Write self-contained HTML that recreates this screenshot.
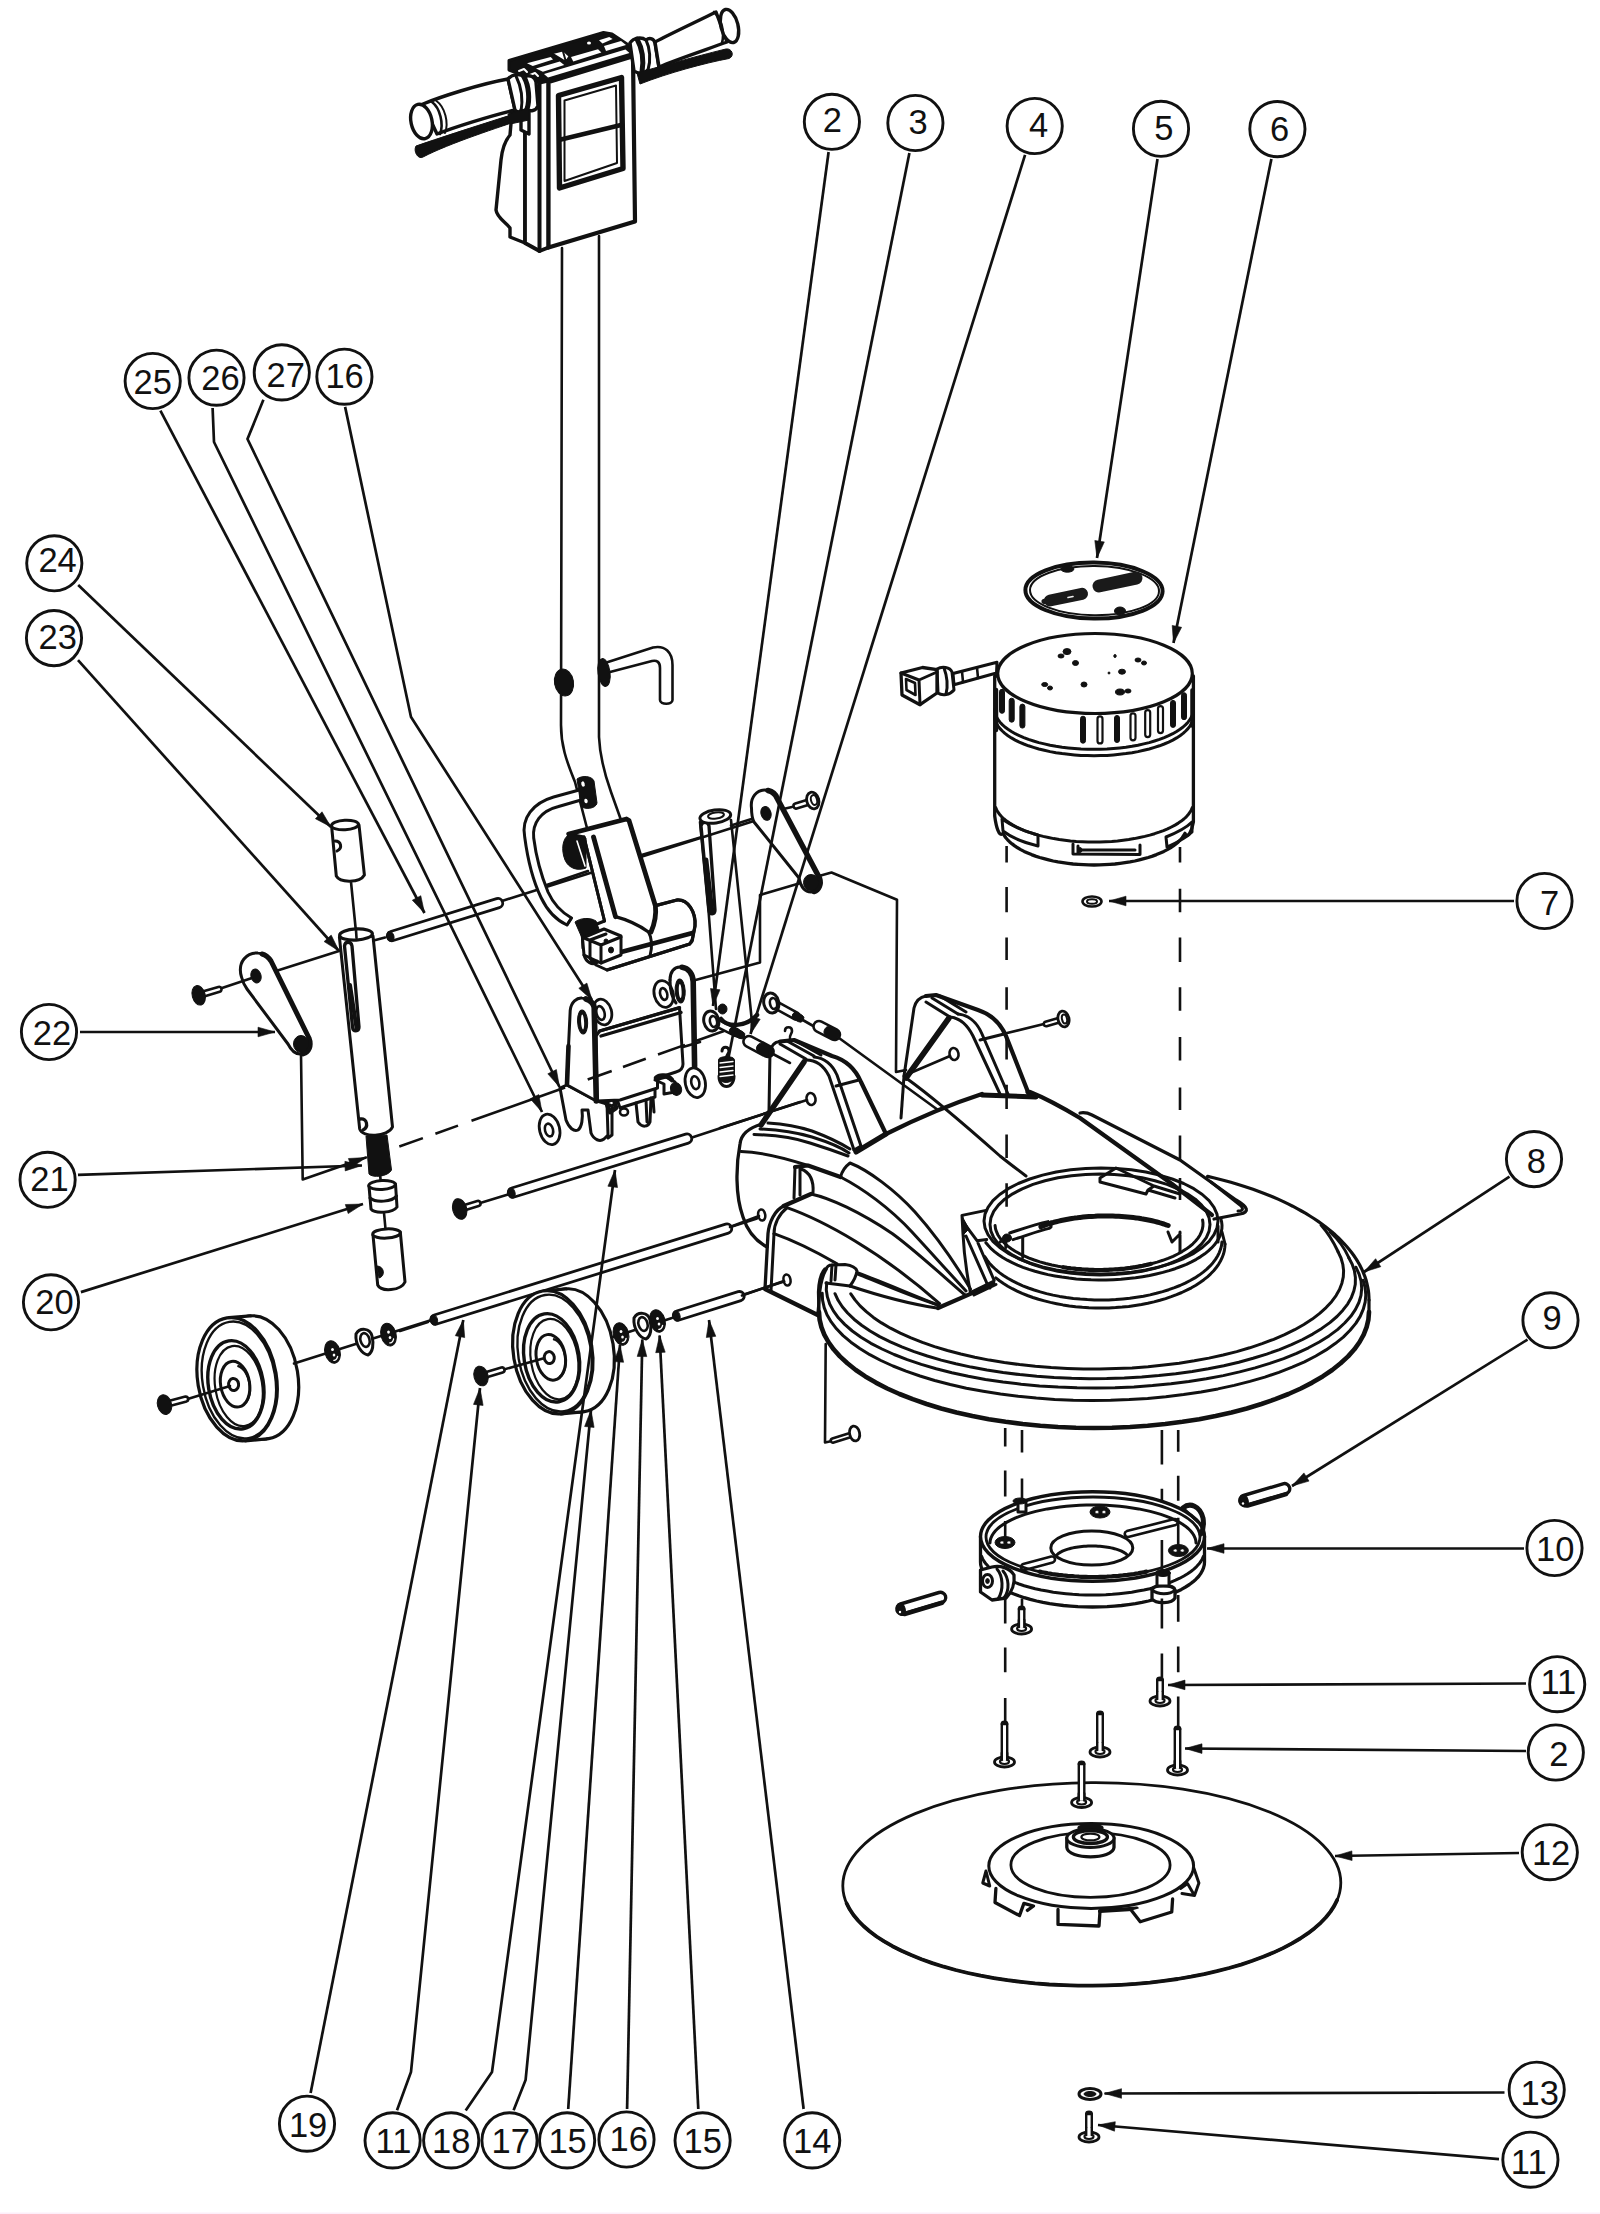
<!DOCTYPE html>
<html><head><meta charset="utf-8"><title>Exploded view</title>
<style>
html,body{margin:0;padding:0;background:#fff;}
body{width:1600px;height:2214px;overflow:hidden;font-family:"Liberation Sans",sans-serif;}
svg{display:block}
.s{fill:none;stroke:#111;stroke-width:2.6;stroke-linecap:round;stroke-linejoin:round}
.t{fill:none;stroke:#111;stroke-width:2;stroke-linecap:round;stroke-linejoin:round}
.k{fill:none;stroke:#111;stroke-width:3.4;stroke-linecap:round;stroke-linejoin:round}
.w{fill:#fff;stroke:#111;stroke-width:2.6;stroke-linecap:round;stroke-linejoin:round}
.b{fill:#111;stroke:#111;stroke-width:1;stroke-linejoin:round}
.l{fill:none;stroke:#111;stroke-width:2.7;stroke-linecap:butt}
.d{fill:none;stroke:#111;stroke-width:2;stroke-dasharray:26 12}
.c{fill:#fff;stroke:#111;stroke-width:2.9}
text{font-family:"Liberation Sans",sans-serif;font-size:34.5px;fill:#111;text-anchor:middle}
</style></head><body>
<svg width="1600" height="2214" viewBox="0 0 1600 2214">
<rect x="0" y="0" width="1600" height="2214" fill="#fff"/><rect x="0" y="2212.5" width="1600" height="1.5" fill="#fdeefa"/>
<!-- 10_handle_top.py -->
<path class="w" d="M423 104 C440 97 480 84 508 79 L515 110 C490 116 455 127 437 134 Z" style="stroke-width:3.4"/>
<ellipse class="w" style="stroke-width:3.4" cx="421.5" cy="121.5" rx="10.5" ry="17.5" transform="rotate(-12 421.5 121.5)"/>
<path class="s" d="M432 102 C440 108 444 124 440 134" />
<path class="t" d="M436.5 101 C445 107 449 123 445 133" />
<path class="w" d="M512 112 L510 135 C504 142 502 150 501 160 L496 210 C497 218 506 222 510 228 L510 237 L525 243 L525 115 Z" style="stroke-width:3.4"/>
<path class="w" d="M525 76 L525 243 L539.5 251 L548.5 247.5 L548.5 82 L539.5 76 Z" style="stroke-width:3.8"/>
<path class="s" d="M539.5 83 L539.5 251" style="stroke-width:4"/>
<path class="b" d="M509 60.5 L603.5 32.5 L612 34 L633 48 L633 55 L548.5 81 L539.5 83 L525 76 L509 70 Z" style="stroke-width:3"/>
<path class="w" d="M527 63.3 L550.7 57 L553 59.4 L532.75 66 Z" style="stroke:none"/>
<path class="w" d="M536 68.4 L559.75 61.6 L564.25 65 L542.9 71.75 Z" style="stroke:none"/>
<path class="w" d="M571 57 L598 49.25 L601.4 52.6 L573.25 61.6 Z" style="stroke:none"/>
<path class="w" d="M599 40.25 L609.25 36.9 L612.6 39 L602.5 43.6 Z" style="stroke:none"/>
<path class="w" d="M604 46 L621 41 L626 45 L606 51 Z" style="stroke:none"/>
<path class="w" d="M544 74 L625.5 49.5 L629.5 53 L548 77.5 Z" style="stroke:none"/>
<path class="w" d="M553 54 L563 51.5 L569 57 L566 62 Z" style="stroke:none"/>
<path class="s" d="M553 54 L566 62 M563 51.5 L566 62 L569 57" style="stroke-width:2"/>
<ellipse class="w" style="stroke:none" cx="589" cy="43" rx="2" ry="1.5"/>
<path class="s" d="M519 71 L524 69 L527 72 M530 75 L535 73 L538 76" style="stroke:#fff;stroke-width:2"/>
<path class="w" d="M508 79 C512 74 520 73 524 77 C530 74 535 77 536 82 L538 106 C536 111 530 112 527 109 C523 113 517 113 515 110 Z" style="stroke-width:3.4"/>
<path class="s" d="M516 76 C521 86 523 100 521 112" style="stroke-width:3"/>
<path class="s" d="M524 77 C529 86 530 100 527 109" style="stroke-width:5"/>
<path class="w" d="M521 110 L521 130 L529 134 L529 112" style="stroke-width:3.4"/>
<path class="b" d="M416 146 C445 136 495 120 527 110 L529 117 C497 128 450 143 423 157 C418 160 413 151 416 146 Z" />
<path class="b" d="M508 114 L528 108 L529 120 L510 124 Z" />
<path class="w" d="M548.5 82 L633 56.3 L635 221.6 L548.5 247.5 Z" style="stroke-width:4.2"/>
<path class="s" d="M558.5 95.5 L621.5 77.5 L623 168.5 L559.5 188 Z" style="stroke-width:5.4;stroke-linejoin:round"/>
<path class="t" d="M564.5 100.5 L616 85.5 L617 163 L564.5 181 Z" />
<path class="s" d="M561 139.5 L621 125" style="stroke-width:4.4"/>
<path class="w" d="M630 43 C634 37 642 37 646 40 C650 37 654 39 655 43 L659 68 C655 73 650 72 648 70 C644 74 638 74 634 71 Z" style="stroke-width:3.4"/>
<path class="s" d="M637 39 C642 48 644 60 642 72" style="stroke-width:5"/>
<path class="s" d="M646 40 C650 48 651 60 648 70" style="stroke-width:3"/>
<path class="w" d="M655 42 C670 34 700 20 716 12 L727 42 C705 50 675 60 659 67 Z" style="stroke-width:3.4"/>
<ellipse class="w" style="stroke-width:3.4" cx="729.5" cy="26" rx="8.5" ry="17" transform="rotate(-14 729.5 26)"/>
<path class="s" d="M714 12 C721 18 725 32 722 43" />
<path class="b" d="M637 73 C665 65 705 54 726 49 C732 48 735 56 729 58.5 C705 63 668 73 640 84 Z" />
<!-- 11_handle_tube.py -->
<path class="s" d="M562 248 L561 725 C561 745 566 760 575 782 L588 832" />
<path class="s" d="M599 236 L599 737 C600 760 606 778 611 792 L621 820" />
<ellipse class="b" cx="564" cy="682.5" rx="9.5" ry="13.5" transform="rotate(-10 564 682.5)"/>
<ellipse class="b" cx="604" cy="672.5" rx="6" ry="14" transform="rotate(-8 604 672.5)"/>
<path class="s" d="M608 662 L653 647.5 C665 645 672.5 652 672.5 665 L672.5 700 C672.5 705 660 705 660 700 L660 668 C660 662 657 660 652 661 L610 672" />
<!-- 20_left_parts.py -->
<path class="w" d="M331.6 826 L336.3 876 C340 883 360 883 364.4 875 L359 825 Z" style="stroke-width:3"/>
<ellipse class="w" style="stroke-width:3" cx="345" cy="825" rx="13.5" ry="4.8" transform="rotate(-3 345 825)"/>
<path class="s" d="M335 841 C341 841 343 848 337 851" style="stroke-width:3"/>
<line class="s" x1="351" y1="882" x2="356.5" y2="937"/>
<path class="w" d="M339.4 937 L359.7 1129 C362 1138 388 1137 392.5 1127 L373 936 Z" style="stroke-width:3"/>
<ellipse class="w" style="stroke-width:3.2" cx="356" cy="934.5" rx="16.4" ry="5.6" transform="rotate(-3 356 934.5)"/>
<path class="s" d="M344.5 946 C345 941 351 941 352 946 L359 1027 C359 1032 353 1032 352.5 1027 Z" style="stroke-width:3.3"/>
<path class="s" d="M350 985 L356.5 1028" style="stroke-width:4"/>
<path class="s" d="M360.5 1119 C367 1118 369 1127 363 1130" style="stroke-width:3.3"/>
<line class="s" x1="356" y1="930" x2="356.5" y2="938"/>
<path class="b" d="M366 1136 L387 1135 L391.5 1170 C388 1177 372 1178 369 1174 Z" />
<line class="s" x1="380" y1="1174" x2="381" y2="1184"/>
<path class="w" d="M369 1186 L371 1209 C375 1214 393 1213 397 1207 L395.5 1184 Z" style="stroke-width:3"/>
<ellipse class="w" style="stroke-width:3" cx="382" cy="1185" rx="13.3" ry="4.5" transform="rotate(-3 382 1185)"/>
<path class="s" d="M370 1198 C376 1203 392 1202 396.5 1196" style="stroke-width:3"/>
<line class="s" x1="384" y1="1213" x2="385.5" y2="1229"/>
<path class="w" d="M373 1235 L377.7 1285 C381 1292 401 1291 405 1282 L400.3 1232 Z" style="stroke-width:3"/>
<ellipse class="w" style="stroke-width:3" cx="386.5" cy="1233.5" rx="13.8" ry="4.6" transform="rotate(-3 386.5 1233.5)"/>
<path class="b" d="M377 1266 C384 1266 386 1276 379 1278 Z" />
<path class="w" d="M241.5 977 C237 962 247 952 258 953 C264 953 268 956 271 961 L309 1038 C312 1046 308 1053 300 1054 C295 1054 291 1050 288 1044 L247 989 C244 985 242.5 981 241.5 977 Z" style="stroke-width:3"/>
<path class="s" d="M262 954 C266 955 269 958 271 961 L309 1038 C312 1046 309 1052 303 1054" style="stroke-width:5"/>
<ellipse class="b" cx="256" cy="976" rx="5" ry="7" transform="rotate(-15 256 976)"/>
<ellipse class="b" cx="301" cy="1044" rx="7.5" ry="8.5"/>
<line class="s" x1="219" y1="989" x2="252" y2="978"/>
<path class="w" d="M205.7 995.9 L219.7 991.7 A2.5 2.5 0 0 0 218.3 986.9 L204.3 991.1 A2.5 2.5 0 0 0 205.7 995.9 Z"/>
<ellipse class="b" cx="198.7" cy="995.3" rx="6.5" ry="10" transform="rotate(-15 198.7 995.3)"/>
<line class="s" x1="276" y1="971" x2="339" y2="951"/>
<path class="s" d="M301 1054 L302.7 1179.5 L366 1157.5"/><path class="b" style="stroke-width:.6" d="M366 1157.5 L351.5 1167.6 L348.4 1158.5 Z"/>
<ellipse class="w" style="stroke-width:3.2" cx="258.5" cy="1377.4" rx="39.4" ry="62.1" transform="rotate(-9.4 258.5 1377.4)"/>
<path class="w" style="stroke:none" d="M229 1317.7 L250.4 1315.9 L266.6 1438.9 L245.2 1440.8 Z"/>
<path class="s" d="M229 1317.7 L250.4 1315.9 M245.2 1440.8 L266.6 1438.9" style="stroke-width:3.2"/>
<ellipse class="w" style="stroke-width:3.2" cx="237.1" cy="1379.2" rx="39.4" ry="62.1" transform="rotate(-9.4 237.1 1379.2)"/>
<ellipse class="s" style="stroke-width:2.4" cx="238.9" cy="1380" rx="36.4" ry="58.9" transform="rotate(-9.4 238.9 1380)"/>
<ellipse class="s" style="stroke-width:3.4" cx="235.9" cy="1384.8" rx="27.5" ry="44.5" transform="rotate(-9.4 235.9 1384.8)"/>
<ellipse class="s" style="stroke-width:2.2" cx="238.7" cy="1386" rx="23.5" ry="40.5" transform="rotate(-9.4 238.7 1386)"/>
<ellipse class="s" style="stroke-width:3" cx="235.1" cy="1384.2" rx="14.5" ry="23" transform="rotate(-9.4 235.1 1384.2)"/>
<path class="s" d="M238.3 1366.2 L238.9 1366.4 L239.6 1366.7 L240.2 1367 L240.8 1367.4 L241.4 1367.8 L242 1368.3 L242.6 1368.8 L243.1 1369.4 L243.7 1370 L244.2 1370.6 L244.8 1371.4 L245.3 1372.1 L245.8 1372.9 L246.2 1373.7 L246.7 1374.6 L247.1 1375.5 L247.5 1376.4 L247.9 1377.4 L248.2 1378.3 L248.5 1379.3 L248.8 1380.3 L249 1381.4 L249.3 1382.4 L249.5 1383.5 L249.6 1384.5 L249.7 1385.6 L249.8 1386.6 L249.9 1387.7 L249.9 1388.7 L249.9 1389.7 L249.9 1390.8 L249.8 1391.8 L249.7 1392.7 L249.5 1393.7 L249.4 1394.6 L249.1 1395.5 L248.9 1396.4 L248.6 1397.3 L248.3 1398.1 L248 1398.8 L247.7 1399.6 L247.3 1400.2 L246.9 1400.9 L246.4 1401.5 L246 1402 L245.5 1402.5 L245 1403 L244.5 1403.4" style="stroke-width:2.4"/>
<ellipse class="w" style="stroke-width:3" cx="233.6" cy="1384.5" rx="5" ry="6" transform="rotate(-9.4 233.6 1384.5)"/>
<line class="s" x1="186" y1="1399.5" x2="230" y2="1386"/>
<path class="w" d="M171.6 1405.4 L186.6 1401.4 A2.5 2.5 0 0 0 185.4 1396.6 L170.4 1400.6 A2.5 2.5 0 0 0 171.6 1405.4 Z"/>
<ellipse class="b" cx="164.5" cy="1404.6" rx="7" ry="10" transform="rotate(-15 164.5 1404.6)"/>
<line class="s" x1="294" y1="1363.5" x2="430" y2="1320.5"/>
<ellipse class="b" cx="332.5" cy="1352" rx="7.6" ry="11.5" transform="rotate(-15 332.5 1352)"/>
<ellipse class="w" style="stroke:none" cx="332.5" cy="1349.5" rx="1.4" ry="1.6"/>
<ellipse class="w" style="stroke:none" cx="334" cy="1355" rx="1.3" ry="1.5"/>
<path class="s" d="M337.6 1356.3 L337.6 1356.4 L337.5 1356.6 L337.5 1356.7 L337.5 1356.9 L337.4 1357 L337.4 1357.2 L337.3 1357.3 L337.3 1357.5 L337.2 1357.6 L337.2 1357.7 L337.1 1357.9 L337.1 1358 L337 1358.1 L337 1358.2 L336.9 1358.3 L336.8 1358.5 L336.8 1358.6 L336.7 1358.7 L336.6 1358.8 L336.5 1358.9 L336.5 1359 L336.4 1359.1 L336.3 1359.2 L336.2 1359.3 L336.1 1359.4 L336.1 1359.4 L336 1359.5 L335.9 1359.6 L335.8 1359.7 L335.7 1359.7 L335.6 1359.8 L335.5 1359.9 L335.4 1359.9 L335.3 1360 L335.2 1360 L335.1 1360.1 L335 1360.1 L334.9 1360.1 L334.8 1360.2 L334.7 1360.2 L334.6 1360.2 L334.5 1360.3 L334.4 1360.3 L334.3 1360.3 L334.2 1360.3 L334.1 1360.3 L333.9 1360.3 L333.8 1360.3" style="stroke:#fff;stroke-width:1.3"/>
<ellipse class="b" cx="388.5" cy="1334.6" rx="7.6" ry="11.5" transform="rotate(-15 388.5 1334.6)"/>
<ellipse class="w" style="stroke:none" cx="388.5" cy="1332.1" rx="1.4" ry="1.6"/>
<ellipse class="w" style="stroke:none" cx="390" cy="1337.6" rx="1.3" ry="1.5"/>
<path class="s" d="M393.6 1338.9 L393.6 1339 L393.5 1339.2 L393.5 1339.3 L393.5 1339.5 L393.4 1339.6 L393.4 1339.8 L393.3 1339.9 L393.3 1340.1 L393.2 1340.2 L393.2 1340.3 L393.1 1340.5 L393.1 1340.6 L393 1340.7 L393 1340.8 L392.9 1340.9 L392.8 1341.1 L392.8 1341.2 L392.7 1341.3 L392.6 1341.4 L392.5 1341.5 L392.5 1341.6 L392.4 1341.7 L392.3 1341.8 L392.2 1341.9 L392.1 1342 L392.1 1342 L392 1342.1 L391.9 1342.2 L391.8 1342.3 L391.7 1342.3 L391.6 1342.4 L391.5 1342.5 L391.4 1342.5 L391.3 1342.6 L391.2 1342.6 L391.1 1342.7 L391 1342.7 L390.9 1342.7 L390.8 1342.8 L390.7 1342.8 L390.6 1342.8 L390.5 1342.9 L390.4 1342.9 L390.3 1342.9 L390.2 1342.9 L390.1 1342.9 L389.9 1342.9 L389.8 1342.9" style="stroke:#fff;stroke-width:1.3"/>
<path class="w" d="M356 1334 C360 1327 370 1328 372 1336 C374 1344 373 1352 368 1355 C362 1354 355 1345 356 1334 Z" style="stroke-width:3"/>
<ellipse class="s" style="stroke-width:2.6" cx="365" cy="1340" rx="4.5" ry="7" transform="rotate(-15 365 1340)"/>
<!-- 25_rods_wheel2.py -->
<line class="s" x1="692" y1="1137.5" x2="800" y2="1102"/>
<path class="w" style="stroke-width:2.8" d="M514.4 1197 L688.4 1143.2 A4.7 4.7 0 0 0 685.6 1134.2 L511.6 1188 A4.7 4.7 0 0 0 514.4 1197 Z"/>
<ellipse class="b" cx="511.5" cy="1193" rx="3.5" ry="5.2" transform="rotate(-17 511.5 1193)"/>
<line class="s" x1="472" y1="1205.5" x2="508" y2="1194.5"/>
<path class="w" d="M465.7 1209.9 L478.7 1205.9 A2.5 2.5 0 0 0 477.3 1201.1 L464.3 1205.1 A2.5 2.5 0 0 0 465.7 1209.9 Z"/>
<ellipse class="b" cx="459.7" cy="1209" rx="7" ry="10.5" transform="rotate(-15 459.7 1209)"/>
<line class="s" x1="400" y1="1331" x2="428" y2="1322"/>
<line class="s" x1="732" y1="1226.5" x2="757" y2="1218.5"/>
<path class="w" style="stroke-width:2.8" d="M436.9 1324 L728.4 1233.2 A4.7 4.7 0 0 0 725.6 1224.2 L434.1 1315 A4.7 4.7 0 0 0 436.9 1324 Z"/>
<ellipse class="b" cx="434" cy="1320" rx="3.5" ry="5.2" transform="rotate(-17 434 1320)"/>
<line class="s" x1="744" y1="1294.5" x2="784" y2="1281.5"/>
<path class="w" style="stroke-width:2.8" d="M679.4 1320 L740.9 1300.7 A4.7 4.7 0 0 0 738.1 1291.7 L676.6 1311 A4.7 4.7 0 0 0 679.4 1320 Z"/>
<ellipse class="b" cx="676.5" cy="1316" rx="3.5" ry="5.2" transform="rotate(-17 676.5 1316)"/>
<line class="s" x1="607" y1="1339" x2="672" y2="1318"/>
<ellipse class="w" style="stroke-width:3.2" cx="574.2" cy="1350.4" rx="39.4" ry="62.1" transform="rotate(-9.4 574.2 1350.4)"/>
<path class="w" style="stroke:none" d="M544.7 1290.8 L566.1 1288.9 L582.3 1411.9 L560.9 1413.8 Z"/>
<path class="s" d="M544.7 1290.8 L566.1 1288.9 M560.9 1413.8 L582.3 1411.9" style="stroke-width:3.2"/>
<ellipse class="w" style="stroke-width:3.2" cx="552.8" cy="1352.3" rx="39.4" ry="62.1" transform="rotate(-9.4 552.8 1352.3)"/>
<ellipse class="s" style="stroke-width:2.4" cx="554.6" cy="1353.1" rx="36.4" ry="58.9" transform="rotate(-9.4 554.6 1353.1)"/>
<ellipse class="s" style="stroke-width:3.4" cx="551.6" cy="1357.8" rx="27.5" ry="44.5" transform="rotate(-9.4 551.6 1357.8)"/>
<ellipse class="s" style="stroke-width:2.2" cx="554.4" cy="1359.1" rx="23.5" ry="40.5" transform="rotate(-9.4 554.4 1359.1)"/>
<ellipse class="s" style="stroke-width:3" cx="550.8" cy="1357.3" rx="14.5" ry="23" transform="rotate(-9.4 550.8 1357.3)"/>
<path class="s" d="M554 1339.3 L554.6 1339.5 L555.3 1339.7 L555.9 1340 L556.5 1340.4 L557.1 1340.8 L557.7 1341.3 L558.3 1341.8 L558.8 1342.4 L559.4 1343 L559.9 1343.7 L560.5 1344.4 L561 1345.2 L561.5 1346 L561.9 1346.8 L562.4 1347.6 L562.8 1348.5 L563.2 1349.5 L563.6 1350.4 L563.9 1351.4 L564.2 1352.4 L564.5 1353.4 L564.7 1354.4 L565 1355.5 L565.2 1356.5 L565.3 1357.6 L565.4 1358.6 L565.5 1359.7 L565.6 1360.7 L565.6 1361.8 L565.6 1362.8 L565.6 1363.8 L565.5 1364.8 L565.4 1365.8 L565.2 1366.7 L565.1 1367.7 L564.8 1368.6 L564.6 1369.5 L564.3 1370.3 L564 1371.1 L563.7 1371.9 L563.4 1372.6 L563 1373.3 L562.6 1373.9 L562.1 1374.5 L561.7 1375.1 L561.2 1375.6 L560.7 1376 L560.2 1376.4" style="stroke-width:2.4"/>
<ellipse class="w" style="stroke-width:3" cx="549.3" cy="1357.6" rx="5" ry="6" transform="rotate(-9.4 549.3 1357.6)"/>
<line class="s" x1="502" y1="1370" x2="543" y2="1358.5"/>
<path class="w" d="M487.7 1376.9 L502.7 1372.4 A2.5 2.5 0 0 0 501.3 1367.6 L486.3 1372.1 A2.5 2.5 0 0 0 487.7 1376.9 Z"/>
<ellipse class="b" cx="481" cy="1376" rx="7" ry="10" transform="rotate(-15 481 1376)"/>
<ellipse class="b" cx="621" cy="1334" rx="7.6" ry="11.5" transform="rotate(-15 621 1334)"/>
<ellipse class="w" style="stroke:none" cx="621" cy="1331.5" rx="1.4" ry="1.6"/>
<ellipse class="w" style="stroke:none" cx="622.5" cy="1337" rx="1.3" ry="1.5"/>
<path class="s" d="M626.1 1338.3 L626.1 1338.4 L626 1338.6 L626 1338.7 L626 1338.9 L625.9 1339 L625.9 1339.2 L625.8 1339.3 L625.8 1339.5 L625.7 1339.6 L625.7 1339.7 L625.6 1339.9 L625.6 1340 L625.5 1340.1 L625.5 1340.2 L625.4 1340.3 L625.3 1340.5 L625.3 1340.6 L625.2 1340.7 L625.1 1340.8 L625 1340.9 L625 1341 L624.9 1341.1 L624.8 1341.2 L624.7 1341.3 L624.6 1341.4 L624.6 1341.4 L624.5 1341.5 L624.4 1341.6 L624.3 1341.7 L624.2 1341.7 L624.1 1341.8 L624 1341.9 L623.9 1341.9 L623.8 1342 L623.7 1342 L623.6 1342.1 L623.5 1342.1 L623.4 1342.1 L623.3 1342.2 L623.2 1342.2 L623.1 1342.2 L623 1342.3 L622.9 1342.3 L622.8 1342.3 L622.7 1342.3 L622.6 1342.3 L622.4 1342.3 L622.3 1342.3" style="stroke:#fff;stroke-width:1.3"/>
<ellipse class="b" cx="657.5" cy="1321" rx="7.6" ry="11.5" transform="rotate(-15 657.5 1321)"/>
<ellipse class="w" style="stroke:none" cx="657.5" cy="1318.5" rx="1.4" ry="1.6"/>
<ellipse class="w" style="stroke:none" cx="659" cy="1324" rx="1.3" ry="1.5"/>
<path class="s" d="M662.6 1325.3 L662.6 1325.4 L662.5 1325.6 L662.5 1325.7 L662.5 1325.9 L662.4 1326 L662.4 1326.2 L662.3 1326.3 L662.3 1326.5 L662.2 1326.6 L662.2 1326.7 L662.1 1326.9 L662.1 1327 L662 1327.1 L662 1327.2 L661.9 1327.3 L661.8 1327.5 L661.8 1327.6 L661.7 1327.7 L661.6 1327.8 L661.5 1327.9 L661.5 1328 L661.4 1328.1 L661.3 1328.2 L661.2 1328.3 L661.1 1328.4 L661.1 1328.4 L661 1328.5 L660.9 1328.6 L660.8 1328.7 L660.7 1328.7 L660.6 1328.8 L660.5 1328.9 L660.4 1328.9 L660.3 1329 L660.2 1329 L660.1 1329.1 L660 1329.1 L659.9 1329.1 L659.8 1329.2 L659.7 1329.2 L659.6 1329.2 L659.5 1329.3 L659.4 1329.3 L659.3 1329.3 L659.2 1329.3 L659.1 1329.3 L658.9 1329.3 L658.8 1329.3" style="stroke:#fff;stroke-width:1.3"/>
<path class="w" d="M634 1318 C638 1311 648 1312 650 1320 C652 1328 651 1336 646 1339 C640 1338 633 1329 634 1318 Z" style="stroke-width:3"/>
<ellipse class="s" style="stroke-width:2.6" cx="643" cy="1324" rx="4.5" ry="7" transform="rotate(-15 643 1324)"/>
<!-- 30_pivot.py -->
<line class="s" x1="373.7" y1="940.6" x2="385" y2="937.5"/>
<line class="s" x1="502" y1="901" x2="757" y2="820"/>
<path class="w" style="stroke-width:2.8" d="M393.4 940.5 L499.4 907.7 A4.7 4.7 0 0 0 496.6 898.7 L390.6 931.5 A4.7 4.7 0 0 0 393.4 940.5 Z"/>
<ellipse class="b" cx="390.5" cy="936.5" rx="3.4" ry="5.2" transform="rotate(-17 390.5 936.5)"/>
<path class="w" d="M581 789.5 L553.6 797 C533 803 521 818 524.7 837 C528 862 535 885 541 897.5 C547 910 556 920 567 925 L571.5 918 C561 912 553 903 548 892 C541 875 536 856 533.7 838 C532 823 541 811 557.7 806.7 L581 800 Z" style="stroke-width:3"/>
<path class="s" d="M567 925 L571.5 918" />
<path class="b" d="M577 779 C582 775 592 776 594 781 L597 803 C596 809 584 810 581 806 Z" />
<ellipse class="w" cx="583" cy="784" rx="3" ry="4" transform="rotate(-15 583 784)"/>
<ellipse class="w" cx="586" cy="801" rx="3" ry="3.5" transform="rotate(-15 586 801)"/>
<path class="w" d="M568.7 834 L626.5 819 L629 820.5 L655.4 905.7 L677 900 C688 899 696 912 695 926 L692.5 938.7 L689.7 944 L607 970 L596 965 L583 948 L582 930 L604.5 921 L584 837 Z" style="stroke-width:3"/>
<path class="s" d="M568.7 834 L626.5 819 L629 820.5 L655.4 905.7 C656.5 915 654 925 651 932" style="stroke-width:4.8"/>
<path class="s" d="M593.5 837 L615.5 916.7 C628 920 640 926 648.5 932 L651 932" style="stroke-width:3.3"/>
<path class="s" d="M593.5 837 L615.5 916.7" style="stroke-width:4.8"/>
<path class="s" d="M584 837 L604.5 921" style="stroke-width:3"/>
<path class="s" d="M648.5 932 C652 938 652 948 650 956" style="stroke-width:3"/>
<path class="s" d="M655.4 905.7 L677 900 C688 899 696 912 695 926 L692.5 938.7" style="stroke-width:3.3"/>
<path class="s" d="M610 955 L692.5 933" style="stroke-width:4.8"/>
<path class="s" d="M607 970 L689.7 944 C692 942 693 940 692.5 938.7" style="stroke-width:3"/>
<path class="b" d="M570 834 C562 838 561 850 565 860 C569 869 578 871 586 868 L586 838 Z" />
<path class="s" d="M577 841 L585 866" style="stroke:#fff;stroke-width:1.6"/>
<path class="b" d="M575 922 C580 918 590 917 596 921 L600 932 L582 938 Z" />
<path class="w" d="M582.5 938 L604 929 L621 936 L621 955 L601 963 L584 955 Z" style="stroke-width:3"/>
<path class="s" d="M590 940 L590 958 M590 940 L606 934 M601 945 L601 963 M601 945 L621 937 M584 938 L601 945" style="stroke-width:3"/>
<ellipse class="b" cx="611" cy="950" rx="2.5" ry="3"/>
<ellipse class="b" cx="606" cy="941" rx="2" ry="2"/>
<path class="s" d="M584 955 C586 962 592 966 598 962 M590 958 C592 962 595 963 597 961" style="stroke-width:3"/>
<line class="s" x1="641.6" y1="855" x2="699.4" y2="837.7"/>
<line class="s" x1="546.7" y1="885" x2="588" y2="871"/>
<path class="s" d="M700 822 L708.75 913.75 L716 1009" />
<path class="s" d="M731 820 L752 1022" />
<path class="s" d="M701 826 C702 821 708 821 709 826 L715 910 C715 915 709.5 915 709 910 Z" style="stroke-width:3.3"/>
<path class="s" d="M706 860 L712 912" style="stroke-width:4.8"/>
<ellipse class="w" style="stroke-width:3" cx="715.3" cy="816.5" rx="15.5" ry="6.5" transform="rotate(-8 715.3 816.5)"/>
<ellipse class="t" cx="716" cy="815.5" rx="8" ry="3" transform="rotate(-8 716 815.5)"/>
<!-- 31_bracket.py -->
<ellipse class="w" style="stroke-width:2.8" cx="602.5" cy="1012" rx="9" ry="13" transform="rotate(-15 602.5 1012)"/>
<ellipse class="s" cx="600.5" cy="1013" rx="4" ry="7" transform="rotate(-15 600.5 1013)"/>
<ellipse class="w" style="stroke-width:2.8" cx="663.7" cy="994" rx="9.5" ry="13.5" transform="rotate(-15 663.7 994)"/>
<ellipse class="s" style="stroke-width:2.6" cx="663.7" cy="994" rx="3.5" ry="6" transform="rotate(-15 663.7 994)"/>
<path class="w" d="M560 1088 L566 1120 C569 1128 574 1132 578 1130 C582 1127 583 1118 582 1110 L588 1110 L591 1133 C594 1140 600 1142 604 1139 L608 1135 L607 1104 L597 1101 L566.7 1085 Z" style="stroke-width:3"/>
<path class="s" d="M607 1104 L612 1106 L612 1135 L608 1138 M612 1106 L618 1102 L620 1108 L655 1097 L655 1088" style="stroke-width:3"/>
<path class="s" d="M636 1103 L638 1122 C642 1128 648 1127 650 1122 L651 1098 M646 1100 L647 1122 M653 1098 L654 1112" style="stroke-width:3"/>
<path class="s" d="M598 1095 L612 1090 L614 1098 L606 1102 M606 1102 L610 1112 L616 1108 L614 1098" style="stroke-width:4.6"/>
<ellipse class="s" cx="624" cy="1112" rx="4" ry="3.5"/>
<path class="w" d="M599.7 1031 L679.5 1007.7 L683 1064 C683 1068 680 1071 676 1072 L657.5 1078 L657.5 1088 L620 1100 L597 1101 L596 1036 Z" style="stroke-width:3"/>
<path class="s" d="M599.7 1031 L679.5 1007.7 M601 1036 L681 1012.5" style="stroke-width:3.3"/>
<path class="w" d="M655 1080 L666 1077 L675 1082 L675 1092 L664 1094 L664 1084 Z" style="stroke-width:3"/>
<ellipse class="b" cx="676" cy="1089" rx="5.5" ry="6.5" transform="rotate(-20 676 1089)"/>
<path class="s" d="M656 1078 C660 1074 668 1075 672 1080" style="stroke-width:4.6"/>
<path class="w" d="M566.7 1084.7 L570.2 1010.5 C571 1002 577 997.5 582 998 C589 998.5 593.5 1002 594.2 1007.7 L596.3 1101 Z" style="stroke-width:3"/>
<path class="s" d="M586 999 C590.5 1000.5 593.5 1003 594.2 1007.7 L596.3 1101" style="stroke-width:5.6"/>
<ellipse class="b" cx="582.6" cy="1022" rx="5" ry="12" transform="rotate(-3 582.6 1022)"/>
<ellipse class="w" style="stroke:none" cx="582.6" cy="1022" rx="1.5" ry="7.5" transform="rotate(-3 582.6 1022)"/>
<path class="s" d="M568.5 1046 L567 1084" style="stroke-width:4.6"/>
<path class="s" d="M670 980 C670 972 674 967 680 967 C687 967 693 973 693.2 981.6 L694.6 1066" style="stroke-width:3"/>
<path class="s" d="M682 967.2 C688.5 968 693 974 693.2 981.6 L694.6 1066" style="stroke-width:5.6"/>
<path class="s" d="M670 980 C670 990 672 998 676 1003" style="stroke-width:3"/>
<ellipse class="b" cx="680.2" cy="991" rx="5" ry="12" transform="rotate(-3 680.2 991)"/>
<ellipse class="w" style="stroke:none" cx="680.2" cy="991" rx="1.4" ry="7" transform="rotate(-3 680.2 991)"/>
<ellipse class="w" style="stroke-width:2.8" cx="695.3" cy="1082.7" rx="10" ry="15" transform="rotate(-12 695.3 1082.7)"/>
<ellipse class="s" style="stroke-width:2.6" cx="695.3" cy="1082.7" rx="4" ry="6.5" transform="rotate(-12 695.3 1082.7)"/>
<ellipse class="w" style="stroke-width:2.8" cx="549.6" cy="1129.4" rx="10" ry="15.5" transform="rotate(-14 549.6 1129.4)"/>
<ellipse class="s" style="stroke-width:2.6" cx="549" cy="1130" rx="4" ry="6.5" transform="rotate(-14 549 1130)"/>
<path class="s" d="M800.6 883 L760 895 L760 962.5 L695.6 980" />
<line class="s" x1="683" y1="1047" x2="700" y2="1042"/>
<path class="b" d="M718.5 1060 C718 1056 734 1055 734.5 1060 L734.5 1078 C730 1084 722 1084 718.5 1078 Z" />
<path class="s" d="M719 1076 C719 1090 734 1090 734 1076" style="stroke-width:3"/>
<path class="s" d="M720 1063 L733 1061.5 M720 1067.5 L733 1066 M720 1072 L733 1070.5 M720 1076.5 L733 1075" style="stroke:#fff;stroke-width:1.3"/>
<path class="s" d="M722 1051 C722 1046 729 1046 729 1051 C729 1054 726 1055 726.5 1058" style="stroke-width:3"/>
<!-- 32_links.py -->
<line class="s" x1="731" y1="825.6" x2="761" y2="816"/>
<line class="s" x1="770" y1="812" x2="792" y2="807"/>
<path class="w" d="M751.5 808 C750 797 757 790 765 790 C771 790 775 793 777 798 L819.5 878 C822 885 818 891 811 892 C805 892 801 888 799 878 L754 822 C752 818 751.5 812 751.5 808 Z" style="stroke-width:3"/>
<path class="s" d="M768 790.5 C772 791.5 775.5 794 777 798 L819.5 878 C821.5 884 819 890 814 891.5" style="stroke-width:5.5"/>
<ellipse class="b" cx="766" cy="813.4" rx="5" ry="7" transform="rotate(-15 766 813.4)"/>
<ellipse class="b" cx="811" cy="882.5" rx="7.5" ry="8"/>
<path class="w" d="M796.7 808.4 L809.7 804.4 A2.5 2.5 0 0 0 808.3 799.6 L795.3 803.6 A2.5 2.5 0 0 0 796.7 808.4 Z"/>
<ellipse class="w" style="stroke-width:2.8" cx="812.8" cy="800.5" rx="6" ry="8.5" transform="rotate(-15 812.8 800.5)"/>
<ellipse class="t" cx="814" cy="800" rx="3" ry="5" transform="rotate(-15 814 800)"/>
<path class="s" d="M819 876 L831.5 872.5 L897 899.7 L896 1072 L906 1070" />
<ellipse class="b" cx="722.5" cy="1009" rx="4.5" ry="5"/>
<path class="w" d="M713.4 1025.1 L734.4 1035.6 A3.5 3.5 0 0 0 737.6 1029.4 L716.6 1018.9 A3.5 3.5 0 0 0 713.4 1025.1 Z"/>
<ellipse class="w" style="stroke-width:3" cx="711.3" cy="1021" rx="7.5" ry="10" transform="rotate(-12 711.3 1021)"/>
<ellipse class="w" style="stroke-width:2.6" cx="713.5" cy="1021.5" rx="3.5" ry="5.5" transform="rotate(-12 713.5 1021.5)"/>
<path class="b" d="M731.3 1034.4 L739.3 1038.4 A3.8 3.8 0 0 0 742.7 1031.6 L734.7 1027.6 A3.8 3.8 0 0 0 731.3 1034.4 Z"/>
<line class="s" x1="741" y1="1035" x2="746" y2="1038"/>
<path class="w" d="M746.4 1046.4 L765.4 1056.4 A5.5 5.5 0 0 0 770.6 1046.6 L751.6 1036.6 A5.5 5.5 0 0 0 746.4 1046.4 Z"/>
<path class="b" d="M759.5 1053.4 L765.5 1056.4 A5.5 5.5 0 0 0 770.5 1046.6 L764.5 1043.6 A5.5 5.5 0 0 0 759.5 1053.4 Z"/>
<line class="s" x1="773" y1="1054" x2="790" y2="1063"/>
<path class="w" d="M773.3 1007.6 L794.3 1019.1 A3.5 3.5 0 0 0 797.7 1012.9 L776.7 1001.4 A3.5 3.5 0 0 0 773.3 1007.6 Z"/>
<ellipse class="w" style="stroke-width:3" cx="771.3" cy="1003" rx="7.5" ry="10" transform="rotate(-12 771.3 1003)"/>
<ellipse class="w" style="stroke-width:2.6" cx="773.5" cy="1003.5" rx="3.5" ry="5.5" transform="rotate(-12 773.5 1003.5)"/>
<path class="b" d="M794.1 1019.3 L798.1 1021.6 A3.8 3.8 0 0 0 801.9 1015 L797.9 1012.7 A3.8 3.8 0 0 0 794.1 1019.3 Z"/>
<line class="s" x1="801" y1="1019" x2="815" y2="1027"/>
<path class="w" d="M816.5 1031.4 L832 1039.4 A5.5 5.5 0 0 0 837 1029.6 L821.5 1021.6 A5.5 5.5 0 0 0 816.5 1031.4 Z"/>
<path class="b" d="M826.4 1036.3 L831.9 1039.3 A5.5 5.5 0 0 0 837.1 1029.7 L831.6 1026.7 A5.5 5.5 0 0 0 826.4 1036.3 Z"/>
<line class="s" x1="839" y1="1038" x2="938" y2="1110"/>
<path class="s" d="M785 1031 C785 1026 792 1026 792 1031 C792 1034 789 1035 790 1039" />
<path class="s" d="M721 1019 C727 1027 745 1028 757 1015" style="stroke-width:4.5"/>
<!-- 40_deck_skirt.py -->
<path class="s" d="M1207.6 1176.4 L1213.5 1177.8 L1219.4 1179.2 L1225.2 1180.7 L1230.9 1182.3 L1236.6 1184 L1242.2 1185.7 L1247.6 1187.5 L1253 1189.3 L1258.3 1191.2 L1263.6 1193.2 L1268.7 1195.2 L1273.7 1197.3 L1278.6 1199.4 L1283.4 1201.6 L1288.1 1203.9 L1292.7 1206.2 L1297.2 1208.6 L1301.5 1211 L1305.8 1213.4 L1309.9 1216 L1313.9 1218.5 L1317.8 1221.1 L1321.5 1223.8 L1325.2 1226.5 L1328.6 1229.2 L1332 1232 L1335.2 1234.8 L1338.3 1237.7 L1341.2 1240.6 L1344 1243.5 L1346.7 1246.5 L1349.2 1249.5 L1351.6 1252.5 L1353.8 1255.5 L1355.9 1258.6 L1357.8 1261.7 L1359.6 1264.8 L1361.2 1267.9 L1362.7 1271.1 L1364 1274.3 L1365.2 1277.4 L1366.2 1280.6 L1367 1283.9 L1367.7 1287.1 L1368.3 1290.3 L1368.7 1293.5 L1368.9 1296.8 L1369 1300" style="stroke-width:3.2"/>
<path class="s" d="M1369 1300 L1369 1312" style="stroke-width:3.2"/>
<path class="s" d="M1369 1312 L1368.4 1319.6 L1366.6 1327.1 L1363.7 1334.6 L1359.6 1342 L1354.4 1349.3 L1348.1 1356.4 L1340.6 1363.3 L1332.2 1370 L1322.7 1376.4 L1312.2 1382.6 L1300.8 1388.5 L1288.5 1394 L1275.3 1399.2 L1261.4 1404 L1246.8 1408.5 L1231.5 1412.5 L1215.6 1416 L1199.2 1419.2 L1182.4 1421.8 L1165.2 1424 L1147.6 1425.8 L1129.9 1427 L1112 1427.8 L1094 1428 L1076 1427.8 L1058.1 1427 L1040.4 1425.8 L1022.8 1424 L1005.6 1421.8 L988.8 1419.2 L972.4 1416 L956.5 1412.5 L941.2 1408.5 L926.6 1404 L912.7 1399.2 L899.5 1394 L887.2 1388.5 L875.8 1382.6 L865.3 1376.4 L855.8 1370 L847.4 1363.3 L839.9 1356.4 L833.6 1349.3 L828.4 1342 L824.3 1334.6 L821.4 1327.1 L819.6 1319.6 L819 1312" style="stroke-width:4.6"/>
<path class="s" d="M819 1312 L818.5 1292 C819 1280 821 1273 825 1269" style="stroke-width:3.3"/>
<path class="s" d="M1338.1 1251.8 L1341 1258 L1342.8 1264.3 L1343.6 1270.6 L1343.3 1276.9 L1341.9 1283.2 L1339.5 1289.5 L1336.1 1295.6 L1331.6 1301.7 L1326.1 1307.6 L1319.7 1313.4 L1312.3 1319.1 L1303.9 1324.5 L1294.7 1329.7 L1284.6 1334.6 L1273.7 1339.3 L1262.1 1343.7 L1249.7 1347.8 L1236.7 1351.6 L1223.1 1355 L1208.9 1358.1 L1194.3 1360.8 L1179.2 1363.2 L1163.8 1365.1 L1148 1366.7 L1132.1 1367.9 L1115.9 1368.6 L1099.7 1369 L1083.5 1368.9 L1067.3 1368.4 L1051.2 1367.6 L1035.3 1366.3 L1019.6 1364.6 L1004.3 1362.5 L989.3 1360.1 L974.8 1357.2 L960.8 1354 L947.4 1350.5 L934.5 1346.6 L922.4 1342.4 L911 1337.9 L900.3 1333.2 L890.5 1328.2 L881.5 1322.9 L873.4 1317.4 L866.3 1311.7 L860.1 1305.9 L855 1299.9 L850.8 1293.8" style="stroke-width:3"/>
<path class="s" d="M1338 1251.5 C1334 1243 1329 1234 1321 1225" style="stroke-width:3"/>
<path class="s" d="M1348.8 1257.8 L1352.2 1264.3 L1354.4 1270.9 L1355.4 1277.5 L1355.3 1284.2 L1353.9 1290.8 L1351.4 1297.4 L1347.8 1303.8 L1342.9 1310.2 L1337 1316.5 L1329.9 1322.6 L1321.8 1328.4 L1312.7 1334.1 L1302.6 1339.5 L1291.5 1344.7 L1279.5 1349.6 L1266.7 1354.1 L1253.1 1358.3 L1238.8 1362.2 L1223.8 1365.7 L1208.3 1368.8 L1192.2 1371.5 L1175.7 1373.8 L1158.8 1375.6 L1141.7 1377 L1124.3 1378 L1106.7 1378.6 L1089.2 1378.7 L1071.6 1378.3 L1054.1 1377.5 L1036.8 1376.3 L1019.8 1374.6 L1003.1 1372.5 L986.9 1370 L971.1 1367.1 L955.8 1363.8 L941.2 1360.1 L927.3 1356 L914.1 1351.6 L901.8 1346.9 L890.3 1341.9 L879.7 1336.6 L870.1 1331 L861.6 1325.2 L854 1319.2 L847.6 1313 L842.3 1306.7 L838.1 1300.3 L835 1293.7" style="stroke-width:3"/>
<path class="s" d="M1349 1258 C1345 1249 1339 1240 1330 1232" style="stroke-width:3"/>
<path class="s" d="M1355.9 1267.2 L1359.1 1274.2 L1361.1 1281.2 L1361.7 1288.3 L1361 1295.4 L1358.9 1302.5 L1355.5 1309.4 L1350.8 1316.3 L1344.7 1323 L1337.5 1329.6 L1329 1335.9 L1319.3 1342 L1308.5 1347.8 L1296.6 1353.4 L1283.7 1358.6 L1269.8 1363.4 L1255.1 1367.9 L1239.6 1371.9 L1223.3 1375.6 L1206.3 1378.8 L1188.8 1381.5 L1170.9 1383.8 L1152.5 1385.6 L1133.9 1386.9 L1115 1387.7 L1096 1388 L1077.1 1387.8 L1058.2 1387.1 L1039.5 1385.9 L1021.1 1384.2 L1003 1382 L985.4 1379.4 L968.3 1376.3 L951.9 1372.7 L936.2 1368.8 L921.3 1364.4 L907.2 1359.6 L894.1 1354.5 L882 1349 L870.9 1343.3 L861 1337.2 L852.3 1331 L844.7 1324.4 L838.4 1317.8 L833.4 1310.9 L829.7 1304 L827.4 1296.9 L826.3 1289.9 L826.7 1282.8" style="stroke-width:3"/>
<path class="s" d="M1363.2 1280.3 L1365.1 1287.5 L1365.8 1294.8 L1365.2 1302 L1363.3 1309.2 L1360.2 1316.4 L1355.8 1323.4 L1350.1 1330.3 L1343.3 1337.1 L1335.2 1343.6 L1326.1 1349.9 L1315.8 1356 L1304.5 1361.8 L1292.2 1367.2 L1278.9 1372.3 L1264.8 1377.1 L1249.9 1381.4 L1234.2 1385.4 L1217.9 1388.9 L1201 1392 L1183.6 1394.6 L1165.8 1396.8 L1147.6 1398.4 L1129.2 1399.6 L1110.6 1400.3 L1091.9 1400.5 L1073.3 1400.2 L1054.7 1399.4 L1036.3 1398.1 L1018.2 1396.3 L1000.5 1394.1 L983.2 1391.3 L966.4 1388.2 L950.2 1384.5 L934.7 1380.5 L920 1376 L906 1371.2 L893 1366 L880.9 1360.5 L869.8 1354.7 L859.8 1348.5 L850.9 1342.2 L843.1 1335.6 L836.5 1328.8 L831.2 1321.9 L827 1314.8 L824.2 1307.6 L822.6 1300.4 L822.2 1293.2" style="stroke-width:3"/>
<!-- 42_deck_body.py -->
<path class="s" d="M762 1124 C748 1128 741 1134 740 1144 C736 1165 735 1195 743 1217 C747 1230 756 1241 767 1247" style="stroke-width:3.3"/>
<path class="s" d="M768 1123 C785 1124 800 1127 812 1131 C828 1137 842 1144 850 1149" style="stroke-width:3"/>
<path class="s" d="M760 1129 C780 1130 798 1133 812 1137 C828 1142 842 1148 849 1153" style="stroke-width:3"/>
<path class="s" d="M754 1134.5 C775 1135 795 1138 810 1143 C826 1148 840 1153 848 1156" style="stroke-width:3"/>
<path class="s" d="M741 1151.5 C760 1152 785 1158 808 1165.5" style="stroke-width:3"/>
<path class="s" d="M795 1167 L808 1165.5 L840.5 1177" style="stroke-width:4.2"/>
<path class="s" d="M840.5 1177 C862 1188 890 1208 912 1232 C935 1257 952 1276 966 1291" style="stroke-width:3"/>
<path class="s" d="M840.5 1177 C842 1171 846 1166 850 1163 C868 1170 895 1190 915 1212 C940 1240 958 1268 970.5 1289" style="stroke-width:3"/>
<path class="s" d="M795 1167 L794 1198 M800 1169 L800 1195 M801 1169 C809 1172 814 1180 813 1193" style="stroke-width:3"/>
<path class="s" d="M783.6 1206 L811 1194" style="stroke-width:4.2"/>
<path class="s" d="M811 1194 C830 1198 860 1212 892.5 1233.7 C915 1250 945 1278 965.6 1295.5" style="stroke-width:3"/>
<path class="s" d="M787 1207.7 C805 1214 830 1226 855 1241 C885 1259 915 1282 939.6 1303.6" style="stroke-width:3"/>
<path class="s" d="M774 1233.7 C795 1241 820 1254 837 1263.8 M858 1274 C880 1283 910 1296 938 1305" style="stroke-width:3"/>
<path class="s" d="M783.6 1206 C775 1210 769 1222 768 1233.7 L765 1289" style="stroke-width:3.3"/>
<path class="s" d="M787 1207.7 C779 1214 774 1224 774 1233.7 L771 1291" style="stroke-width:3"/>
<path class="s" d="M765 1289 L817.7 1315" style="stroke-width:4.2"/>
<path class="s" d="M817.7 1315 L820 1290.6 C821 1282 823 1275 826 1269.5" style="stroke-width:3"/>
<path class="s" d="M826 1269.5 C827 1266 829 1265 832 1265 L845 1264.6 C851 1265.5 856 1268 857 1271 C856 1277 853 1282 850 1286" style="stroke-width:3"/>
<path class="s" d="M832 1265 L831 1281 M836 1265 L835 1280 M826 1283 L850 1286" style="stroke-width:3"/>
<path class="s" d="M850 1286 C880 1296 910 1304 937 1308" style="stroke-width:3"/>
<path class="s" d="M858 1273 C885 1283 912 1295 938 1305" style="stroke-width:3"/>
<path class="s" d="M938 1308 L968.7 1294.6 L993.5 1283.6" style="stroke-width:4.2"/>
<ellipse class="s" cx="761.7" cy="1215" rx="3.5" ry="5.5" transform="rotate(-10 761.7 1215)"/>
<ellipse class="s" cx="787" cy="1280" rx="3.5" ry="5.5" transform="rotate(-10 787 1280)"/>
<line class="s" x1="759" y1="1216" x2="730" y2="1227"/>
<line class="s" x1="784" y1="1281" x2="742" y2="1295.5"/>
<path class="s" d="M825.7 1344 L825 1442.4 L832 1441" />
<path class="w" d="M833.7 1442.6 L849.7 1437.6 A2.2 2.2 0 0 0 848.3 1433.4 L832.3 1438.4 A2.2 2.2 0 0 0 833.7 1442.6 Z"/>
<ellipse class="w" style="stroke-width:2.8" cx="854.6" cy="1433.5" rx="5" ry="7.5" transform="rotate(-12 854.6 1433.5)"/>
<!-- 43_deck_ears.py -->
<path class="s" d="M769 1110 L770 1052 C771 1045 775 1042 780 1041.5" style="stroke-width:3"/>
<path class="s" d="M780 1041.5 L794 1040 L832 1056 C846 1060 855 1068 861 1082 L886 1134" style="stroke-width:4.2"/>
<path class="s" d="M780 1044 L806 1059 M787 1041 L814 1056 M794 1040 L821 1055" style="stroke-width:3"/>
<path class="s" d="M804 1062 L761 1125" style="stroke-width:5.6"/>
<path class="s" d="M806 1060 C816 1060 824 1066 829 1076 L854 1150" style="stroke-width:3"/>
<path class="s" d="M814 1057 C824 1058 832 1064 837 1075 L861 1146" style="stroke-width:3"/>
<path class="s" d="M836 1086 L859 1080" style="stroke-width:3"/>
<path class="s" d="M856 1152 L886 1134" style="stroke-width:5"/>
<path class="s" d="M854 1150 L861 1146" style="stroke-width:3"/>
<ellipse class="s" cx="811" cy="1099" rx="4.5" ry="6" transform="rotate(-10 811 1099)"/>
<line class="s" x1="807" y1="1100" x2="720" y2="1128"/>
<path class="s" d="M904 1076 L914 1008 C916 1000 920 997 926 996" style="stroke-width:3"/>
<path class="s" d="M926 996 L936 995 L978 1010 C990 1014 1000 1022 1006 1036 L1028 1092" style="stroke-width:4.2"/>
<path class="s" d="M926 1002 L950 1017 M932 998 L958 1014 M940 996 L966 1012" style="stroke-width:3"/>
<path class="s" d="M949 1018 L906 1078" style="stroke-width:5.6"/>
<path class="s" d="M950 1017 C960 1018 968 1026 973 1036 L1000 1094" style="stroke-width:3"/>
<path class="s" d="M958 1014 C968 1015 977 1022 982 1034 L1008 1094" style="stroke-width:3"/>
<path class="s" d="M980 1040 L1004 1034" style="stroke-width:3"/>
<ellipse class="s" cx="954" cy="1054" rx="4.5" ry="6" transform="rotate(-10 954 1054)"/>
<line class="s" x1="950" y1="1056" x2="908" y2="1074"/>
<line class="s" x1="1003" y1="1034" x2="1052" y2="1022"/>
<path class="s" d="M982 1095 L1036 1097 L1028 1092" style="stroke-width:5"/>
<path class="s" d="M886 1134 C910 1122 945 1106 982 1094" style="stroke-width:4.2"/>
<path class="s" d="M904 1076 L901 1118" style="stroke-width:3"/>
<path class="s" d="M906 1078 C930 1095 965 1125 1000 1156 C1010 1164 1018 1170 1026 1176" style="stroke-width:3"/>
<path class="s" d="M1030 1092 C1050 1100 1070 1112 1080 1118 L1172 1184 L1212 1215" style="stroke-width:4.2"/>
<path class="s" d="M1080 1113 C1085 1112 1088 1113 1092 1115 L1180 1160 L1236 1200 C1248 1207 1250 1212 1240 1214 L1214 1219" style="stroke-width:3.3"/>
<path class="s" d="M1211 1182 L1240 1205 C1244 1209 1243 1211 1238 1211" style="stroke-width:3"/>
<path class="w" d="M1046.6 1026.2 L1058.6 1022.7 A2.2 2.2 0 0 0 1057.4 1018.3 L1045.4 1021.8 A2.2 2.2 0 0 0 1046.6 1026.2 Z"/>
<ellipse class="w" style="stroke-width:2.8" cx="1063.5" cy="1019" rx="5.5" ry="8" transform="rotate(-12 1063.5 1019)"/>
<ellipse class="t" cx="1064.5" cy="1019" rx="2.5" ry="4.5" transform="rotate(-12 1064.5 1019)"/>
<!-- 44_deck_ring.py -->
<path class="s" d="M1218 1221 L1217 1227.9 L1214 1234.7 L1209.1 1241.3 L1202.3 1247.5 L1193.8 1253.3 L1183.7 1258.5 L1172.2 1263 L1159.5 1266.9 L1145.8 1270 L1131.3 1272.2 L1116.3 1273.5 L1101 1274 L1085.7 1273.5 L1070.7 1272.2 L1056.2 1270 L1042.5 1266.9 L1029.8 1263 L1018.3 1258.5 L1008.2 1253.3 L999.7 1247.5 L992.9 1241.3 L988 1234.7 L985 1227.9 L984 1221 L985 1214.1 L988 1207.3 L992.9 1200.7 L999.7 1194.5 L1008.2 1188.7 L1018.3 1183.5 L1029.8 1179 L1042.5 1175.1 L1056.2 1172 L1070.7 1169.8 L1085.7 1168.5 L1101 1168 L1116.3 1168.5 L1131.3 1169.8 L1145.8 1172 L1159.5 1175.1 L1172.2 1179 L1183.7 1183.5 L1193.8 1188.7 L1202.3 1194.5 L1209.1 1200.7 L1214 1207.3 L1217 1214.1 L1218 1221" style="stroke-width:3"/>
<path class="s" d="M1210 1224.5 L1209.1 1231.1 L1206.3 1237.6 L1201.6 1243.8 L1195.3 1249.8 L1187.3 1255.2 L1177.8 1260.2 L1167 1264.6 L1155 1268.2 L1142.1 1271.2 L1128.5 1273.3 L1114.4 1274.6 L1100 1275 L1085.6 1274.6 L1071.5 1273.3 L1057.9 1271.2 L1045 1268.2 L1033 1264.6 L1022.2 1260.2 L1012.7 1255.2 L1004.7 1249.8 L998.4 1243.8 L993.7 1237.6 L990.9 1231.1 L990 1224.5 L990.9 1217.9 L993.7 1211.4 L998.4 1205.2 L1004.7 1199.2 L1012.7 1193.8 L1022.2 1188.8 L1033 1184.4 L1045 1180.8 L1057.9 1177.8 L1071.5 1175.7 L1085.6 1174.4 L1100 1174 L1114.4 1174.4 L1128.5 1175.7 L1142.1 1177.8 L1155 1180.8 L1167 1184.4 L1177.8 1188.8 L1187.3 1193.8 L1195.3 1199.2 L1201.6 1205.2 L1206.3 1211.4 L1209.1 1217.9 L1210 1224.5" style="stroke-width:3"/>
<path class="s" d="M1202.6 1220 L1203 1223 L1202.9 1226.1 L1202.3 1229.2 L1201.3 1232.2 L1199.9 1235.2 L1198 1238.1 L1195.6 1241 L1192.9 1243.8 L1189.7 1246.5 L1186.1 1249.1 L1182.1 1251.6 L1177.8 1254 L1173.1 1256.3 L1168.1 1258.4 L1162.8 1260.3 L1157.2 1262.1 L1151.3 1263.8 L1145.2 1265.2 L1138.9 1266.5 L1132.4 1267.6 L1125.8 1268.4 L1119.1 1269.1 L1112.2 1269.6 L1105.3 1269.9 L1098.4 1270 L1091.5 1269.9 L1084.6 1269.6 L1077.8 1269 L1071.1 1268.3 L1064.5 1267.4 L1058.1 1266.3 L1051.8 1265 L1045.7 1263.5 L1039.9 1261.9 L1034.3 1260 L1029.1 1258.1 L1024.1 1255.9 L1019.5 1253.6 L1015.2 1251.2 L1011.3 1248.7 L1007.8 1246.1 L1004.6 1243.3 L1001.9 1240.5 L999.7 1237.6 L997.8 1234.7 L996.5 1231.7 L995.5 1228.7 L995.1 1225.6" style="stroke-width:3"/>
<path class="s" d="M1151 1263.8 L1149.4 1264.2 L1147.7 1264.6 L1146 1265 L1144.3 1265.4 L1142.6 1265.8 L1140.9 1266.1 L1139.1 1266.4 L1137.4 1266.7 L1135.6 1267.1 L1133.9 1267.3 L1132.1 1267.6 L1130.3 1267.9 L1128.5 1268.1 L1126.6 1268.3 L1124.8 1268.6 L1123 1268.8 L1121.1 1268.9 L1119.3 1269.1 L1117.4 1269.3 L1115.6 1269.4 L1113.7 1269.5 L1111.8 1269.6 L1109.9 1269.7 L1108.1 1269.8 L1106.2 1269.9 L1104.3 1269.9 L1102.4 1270 L1100.5 1270 L1098.6 1270 L1096.7 1270 L1094.8 1270 L1093 1269.9 L1091.1 1269.9 L1089.2 1269.8 L1087.3 1269.7 L1085.4 1269.6 L1083.6 1269.5 L1081.7 1269.4 L1079.8 1269.2 L1078 1269 L1076.1 1268.9 L1074.3 1268.7 L1072.4 1268.5 L1070.6 1268.3 L1068.8 1268 L1067 1267.8 L1065.2 1267.5 L1063.4 1267.2" style="stroke-width:4.2"/>
<path class="s" d="M1220.8 1218.5 L1221.6 1221.8 L1222 1225.1 L1221.9 1228.5 L1221.3 1231.8 L1220.3 1235.1 L1218.8 1238.4 L1216.8 1241.6 L1214.5 1244.8 L1211.6 1247.9 L1208.4 1250.9 L1204.8 1253.8 L1200.7 1256.6 L1196.3 1259.3 L1191.5 1261.8 L1186.4 1264.3 L1180.9 1266.5 L1175.1 1268.7 L1169.1 1270.6 L1162.8 1272.4 L1156.2 1274 L1149.5 1275.5 L1142.5 1276.7 L1135.5 1277.8 L1128.2 1278.6 L1120.9 1279.3 L1113.5 1279.7 L1106 1280 L1098.5 1280 L1091.1 1279.8 L1083.6 1279.4 L1076.3 1278.9 L1069 1278.1 L1061.9 1277.1 L1054.9 1275.9 L1048 1274.6 L1041.4 1273 L1035 1271.3 L1028.9 1269.4 L1023 1267.3 L1017.5 1265.1 L1012.2 1262.7 L1007.3 1260.2 L1002.7 1257.5 L998.6 1254.7 L994.8 1251.9 L991.4 1248.9 L988.5 1245.8 L985.9 1242.7" style="stroke-width:3"/>
<path class="s" d="M1218 1226 L1218 1242 M1222 1232 L1225 1244" style="stroke-width:3"/>
<path class="s" d="M1221.9 1242.1 L1221.5 1245.6 L1220.6 1249.1 L1219.3 1252.6 L1217.6 1256 L1215.5 1259.4 L1213 1262.7 L1210.1 1265.9 L1206.8 1269.1 L1203.2 1272.1 L1199.2 1275.1 L1194.9 1277.9 L1190.2 1280.5 L1185.2 1283.1 L1180 1285.5 L1174.5 1287.7 L1168.7 1289.7 L1162.6 1291.6 L1156.4 1293.3 L1150 1294.9 L1143.4 1296.2 L1136.6 1297.3 L1129.8 1298.3 L1122.8 1299 L1115.7 1299.6 L1108.7 1299.9 L1101.5 1300 L1094.4 1299.9 L1087.3 1299.6 L1080.2 1299.1 L1073.3 1298.4 L1066.4 1297.5 L1059.6 1296.4 L1053 1295.1 L1046.5 1293.6 L1040.3 1291.9 L1034.2 1290 L1028.4 1288 L1022.8 1285.8 L1017.5 1283.4 L1012.5 1280.9 L1007.8 1278.3 L1003.4 1275.5 L999.4 1272.6 L995.7 1269.5 L992.4 1266.4 L989.4 1263.2 L986.9 1259.9 L984.7 1256.5" style="stroke-width:3"/>
<path class="s" d="M1225 1244 L1224.8 1247.4 L1224.3 1250.9 L1223.4 1254.3 L1222.1 1257.7 L1220.5 1261 L1218.6 1264.3 L1216.3 1267.5 L1213.7 1270.7 L1210.7 1273.8 L1207.5 1276.8 L1203.9 1279.7 L1200 1282.5 L1195.9 1285.2 L1191.4 1287.8 L1186.7 1290.2 L1181.8 1292.5 L1176.6 1294.7 L1171.2 1296.7 L1165.6 1298.6 L1159.9 1300.3 L1153.9 1301.9 L1147.8 1303.3 L1141.5 1304.5 L1135.2 1305.5 L1128.7 1306.4 L1122.2 1307.1 L1115.6 1307.6 L1108.9 1307.9 L1102.3 1308 L1095.6 1307.9 L1088.9 1307.7 L1082.3 1307.3 L1075.7 1306.7 L1069.3 1305.9 L1062.9 1304.9 L1056.6 1303.7 L1050.4 1302.4 L1044.4 1300.9 L1038.5 1299.3 L1032.9 1297.5 L1027.4 1295.5 L1022.1 1293.4 L1017.1 1291.1 L1012.3 1288.7 L1007.8 1286.2 L1003.5 1283.5 L999.5 1280.8 L995.8 1277.9" style="stroke-width:3"/>
<path class="s" d="M1040.9 1226.7 L1042.9 1225.9 L1044.9 1225.1 L1047 1224.4 L1049.2 1223.7 L1051.5 1223 L1053.8 1222.3 L1056.2 1221.7 L1058.7 1221.1 L1061.2 1220.5 L1063.8 1220 L1066.4 1219.5 L1069.1 1219 L1071.8 1218.5 L1074.6 1218.1 L1077.4 1217.8 L1080.2 1217.4 L1083.1 1217.1 L1086 1216.8 L1088.9 1216.6 L1091.8 1216.4 L1094.8 1216.3 L1097.8 1216.1 L1100.8 1216.1 L1103.8 1216 L1106.8 1216 L1109.8 1216 L1112.8 1216.1 L1115.7 1216.2 L1118.7 1216.3 L1121.7 1216.5 L1124.6 1216.7 L1127.5 1217 L1130.4 1217.3 L1133.3 1217.6 L1136.1 1217.9 L1138.9 1218.3 L1141.6 1218.8 L1144.3 1219.2 L1147 1219.7 L1149.6 1220.2 L1152.1 1220.8 L1154.6 1221.4 L1157 1222 L1159.4 1222.7 L1161.7 1223.3 L1163.9 1224 L1166.1 1224.8 L1168.2 1225.5" style="stroke-width:5"/>
<path class="s" d="M1009.75 1233 C1022 1229 1036 1224 1048 1221.6 M1013 1239.6 C1025 1236 1038 1231 1049 1228.4 L1051 1227 L1051 1222" style="stroke-width:3"/>
<ellipse class="b" cx="1007" cy="1238" rx="4.5" ry="4"/>
<path class="s" d="M1000 1242 L1007 1237" style="stroke-width:3"/>
<path class="s" d="M1005.8 1236 L1005.8 1247.5 M1022.7 1237.4 L1022.7 1257.6" style="stroke-width:3"/>
<path class="s" d="M1168 1232 L1172 1242 L1180 1234 M1180 1232 L1180 1252" style="stroke-width:3"/>
<path class="s" d="M1100 1178 L1116 1168 L1154 1186 L1180 1194 M1100 1178 L1100 1182 L1146 1194 M1146 1194 L1148 1190 L1154 1186 M1148 1190 L1175 1198" style="stroke-width:3"/>
<path class="s" d="M962 1215.4 L986 1210.4 M962 1215.4 L963 1234 C964 1255 967 1275 970.4 1292.5 M963.6 1222.7 L977 1240.7 L986.7 1239.6 M978 1243 L994 1280 M966 1236 L987 1283.5" style="stroke-width:3"/>
<path class="b" d="M962.5 1217 L964 1234 L969 1229 Z" />
<path class="s" d="M970.4 1292.5 L994 1281 M974 1295 L996 1284.5 M987 1283.5 L990 1288" style="stroke-width:3"/>
<!-- 50_motor.py -->
<ellipse class="w" style="stroke-width:4" cx="1094" cy="590.6" rx="68.6" ry="28" transform="rotate(0.5 1094 590.6)"/>
<ellipse class="t" cx="1094.5" cy="590.6" rx="64.5" ry="24.6" transform="rotate(0.5 1094.5 590.6)"/>
<path class="s" d="M1050 600.5 L1082 593.8" style="stroke-width:12;stroke:#1a1a1a"/>
<path class="s" d="M1099 586 L1136 578.2" style="stroke-width:13;stroke:#1a1a1a"/>
<path class="s" d="M1044 601.5 L1052 599" style="stroke-width:5;stroke:#1a1a1a"/>
<path class="s" d="M1068 597.5 L1073 596.5" style="stroke-width:1.6;stroke:#eee"/>
<ellipse class="b" cx="1067.4" cy="569" rx="6.5" ry="3.2"/>
<ellipse class="b" cx="1120" cy="611" rx="5.5" ry="4"/>
<path class="w" d="M994.7 676 L994.7 816 C996 826 999 838 1003 833.3 L1003 833.3 L1004.3 835.5 L1005.8 837.7 L1007.6 839.8 L1009.7 841.9 L1012.1 843.9 L1014.7 845.9 L1017.6 847.8 L1020.7 849.6 L1024.1 851.4 L1027.7 853 L1031.5 854.6 L1035.5 856.1 L1039.7 857.5 L1044 858.7 L1048.6 859.9 L1053.2 861 L1058 861.9 L1063 862.7 L1068 863.4 L1073.1 864 L1078.3 864.4 L1083.5 864.7 L1088.7 864.9 L1094 865 L1099.3 864.9 L1104.5 864.7 L1109.7 864.4 L1114.9 864 L1120 863.4 L1125 862.7 L1130 861.9 L1134.8 861 L1139.4 859.9 L1144 858.7 L1148.3 857.5 L1152.5 856.1 L1156.5 854.6 L1160.3 853 L1163.9 851.4 L1167.3 849.6 L1170.4 847.8 L1173.3 845.9 L1175.9 843.9 L1178.3 841.9 L1180.4 839.8 L1182.2 837.7 L1183.7 835.5 L1185 833.3 C1188 840 1192 830 1193.4 822 L1193.4 676 Z" style="stroke-width:3.3"/>
<path class="s" d="M1192.3 807.6 L1191.3 809.9 L1190 812.2 L1188.3 814.5 L1186.3 816.8 L1183.9 819 L1181.3 821.1 L1178.3 823.1 L1175 825.1 L1171.4 827 L1167.6 828.9 L1163.5 830.6 L1159.1 832.2 L1154.6 833.7 L1149.8 835.1 L1144.8 836.4 L1139.6 837.5 L1134.3 838.6 L1128.8 839.5 L1123.2 840.2 L1117.5 840.9 L1111.7 841.4 L1105.8 841.7 L1099.9 841.9 L1094 842 L1088.1 841.9 L1082.2 841.7 L1076.3 841.4 L1070.5 840.9 L1064.8 840.2 L1059.2 839.5 L1053.7 838.6 L1048.4 837.5 L1043.2 836.4 L1038.2 835.1 L1033.4 833.7 L1028.9 832.2 L1024.5 830.6 L1020.4 828.9 L1016.6 827 L1013 825.1 L1009.7 823.1 L1006.7 821.1 L1004.1 819 L1001.7 816.8 L999.7 814.5 L998 812.2 L996.7 809.9 L995.7 807.6" style="stroke-width:3"/>
<path class="s" d="M1002 819 L1003 831 C1012 838 1025 843 1038 846 L1038 835 C1026 832 1012 826 1002 819 Z" style="stroke-width:3"/>
<path class="s" d="M1073 844 L1073 854 L1140 854.5 L1140 845 M1078 846 L1078 854 M1082 850 L1135 850" style="stroke-width:3"/>
<ellipse class="b" cx="1080" cy="850" rx="2" ry="2.5"/>
<path class="s" d="M1166 837 L1167 847 C1176 843 1186 838 1192 832 L1192 822 C1186 828 1176 833 1166 837 Z" style="stroke-width:3"/>
<path class="s" d="M1193.3 709.3 L1193.1 711.9 L1192.5 714.5 L1191.4 717.1 L1189.9 719.7 L1188 722.2 L1185.7 724.6 L1183.1 727 L1180 729.3 L1176.6 731.5 L1172.8 733.7 L1168.7 735.7 L1164.2 737.6 L1159.5 739.4 L1154.5 741 L1149.2 742.6 L1143.7 743.9 L1137.9 745.2 L1132 746.3 L1125.9 747.2 L1119.7 747.9 L1113.4 748.5 L1107 749 L1100.5 749.2 L1094 749.3 L1087.5 749.2 L1081 749 L1074.6 748.5 L1068.3 747.9 L1062.1 747.2 L1056 746.3 L1050.1 745.2 L1044.3 743.9 L1038.8 742.6 L1033.5 741 L1028.5 739.4 L1023.8 737.6 L1019.3 735.7 L1015.2 733.7 L1011.4 731.5 L1008 729.3 L1004.9 727 L1002.3 724.6 L1000 722.2 L998.1 719.7 L996.6 717.1 L995.5 714.5 L994.9 711.9 L994.7 709.3" style="stroke-width:3"/>
<path class="s" d="M1193.3 715.7 L1193.1 718.3 L1192.5 720.9 L1191.4 723.5 L1189.9 726.1 L1188 728.6 L1185.7 731 L1183.1 733.4 L1180 735.7 L1176.6 737.9 L1172.8 740.1 L1168.7 742.1 L1164.2 744 L1159.5 745.8 L1154.5 747.4 L1149.2 749 L1143.7 750.3 L1137.9 751.6 L1132 752.7 L1125.9 753.6 L1119.7 754.3 L1113.4 754.9 L1107 755.4 L1100.5 755.6 L1094 755.7 L1087.5 755.6 L1081 755.4 L1074.6 754.9 L1068.3 754.3 L1062.1 753.6 L1056 752.7 L1050.1 751.6 L1044.3 750.3 L1038.8 749 L1033.5 747.4 L1028.5 745.8 L1023.8 744 L1019.3 742.1 L1015.2 740.1 L1011.4 737.9 L1008 735.7 L1004.9 733.4 L1002.3 731 L1000 728.6 L998.1 726.1 L996.6 723.5 L995.5 720.9 L994.9 718.3 L994.7 715.7" style="stroke-width:3"/>
<ellipse class="w" style="stroke-width:3.2" cx="1095" cy="673.5" rx="97.3" ry="40"/>
<path class="s" d="M996 690 L996 730" style="stroke-width:4.5"/>
<path class="s" d="M1192 690 L1192 726" style="stroke-width:3.5"/>
<rect class="b" x="1080.5" y="716.2" width="5" height="27" rx="2.5" />
<rect class="s" x="1097.5" y="716.4" width="5" height="27" rx="2.5" style="stroke-width:2.2"/>
<rect class="b" x="1114.5" y="715.5" width="5" height="27" rx="2.5" />
<rect class="s" x="1130.5" y="713.3" width="5" height="27" rx="2.5" style="stroke-width:2.2"/>
<rect class="s" x="1145.2" y="710.1" width="5" height="27" rx="2.5" style="stroke-width:2.2"/>
<rect class="s" x="1158" y="706.1" width="5" height="27" rx="2.5" style="stroke-width:2.2"/>
<rect class="b" x="1170.5" y="700.4" width="5" height="27" rx="2.5" />
<rect class="b" x="1181.5" y="692.7" width="5" height="27" rx="2.5" />
<rect class="b" x="999.5" y="689.3" width="5" height="24" rx="2.5" />
<rect class="b" x="1009.2" y="698.2" width="5" height="24" rx="2.5" />
<rect class="b" x="1019.9" y="704.1" width="5" height="24" rx="2.5" />
<ellipse class="b" cx="1067" cy="651.6" rx="4" ry="3"/>
<ellipse class="b" cx="1061" cy="656" rx="3" ry="2"/>
<ellipse class="b" cx="1075.5" cy="663" rx="3" ry="2.5"/>
<ellipse class="b" cx="1115" cy="656" rx="1.2" ry="1.5"/>
<ellipse class="b" cx="1138" cy="660" rx="3" ry="2"/>
<ellipse class="b" cx="1144" cy="663" rx="2.5" ry="2"/>
<ellipse class="b" cx="1122" cy="671.7" rx="3.5" ry="2.5"/>
<ellipse class="b" cx="1084" cy="684.5" rx="3" ry="2.5"/>
<ellipse class="b" cx="1044.7" cy="684.5" rx="3" ry="2"/>
<ellipse class="b" cx="1050" cy="688" rx="2.5" ry="2"/>
<ellipse class="b" cx="1120" cy="692" rx="4.5" ry="3"/>
<ellipse class="b" cx="1128" cy="691" rx="3" ry="2"/>
<ellipse class="b" cx="1109" cy="673" rx="1" ry="1"/>
<path class="w" d="M953 673.5 L997 662.3 L996.5 673 L954 684.8 Z" style="stroke-width:3"/>
<path class="s" d="M962 671.5 L963 682 M977 667.5 L978 678" />
<path class="w" d="M937 669 C942 666 950 667 952 672 L954 690 C950 695 942 696 938 693 Z" style="stroke-width:3"/>
<path class="s" d="M944 668 C947 676 948 686 946 694" style="stroke-width:3"/>
<path class="w" d="M901 673 L922.5 667.5 L937 669.6 L937 693 L920 704.7 L902 695 Z" style="stroke-width:3.3"/>
<path class="s" d="M901 673 L919 680 L937 672 M919 680 L920 704.7" style="stroke-width:3"/>
<path class="s" d="M906 679 L915 683 L915.5 695 L906.5 690 Z" />
<!-- 60_ring10.py -->
<path class="w" d="M980.5 1536.5 L980.5 1562 L980.5 1562 L980.7 1564.9 L981.5 1567.9 L982.7 1570.8 L984.3 1573.6 L986.4 1576.5 L989 1579.2 L992.1 1581.9 L995.5 1584.5 L999.4 1587 L1003.6 1589.4 L1008.3 1591.7 L1013.3 1593.8 L1018.7 1595.8 L1024.3 1597.7 L1030.3 1599.4 L1036.5 1601 L1043 1602.4 L1049.6 1603.6 L1056.5 1604.6 L1063.5 1605.5 L1070.6 1606.1 L1077.9 1606.6 L1085.2 1606.9 L1092.5 1607 L1099.8 1606.9 L1107.1 1606.6 L1114.4 1606.1 L1121.5 1605.5 L1128.5 1604.6 L1135.4 1603.6 L1142 1602.4 L1148.5 1601 L1154.7 1599.4 L1160.7 1597.7 L1166.3 1595.8 L1171.7 1593.8 L1176.7 1591.7 L1181.4 1589.4 L1185.6 1587 L1189.5 1584.5 L1192.9 1581.9 L1196 1579.2 L1198.6 1576.5 L1200.7 1573.6 L1202.3 1570.8 L1203.5 1567.9 L1204.3 1564.9 L1204.5 1562 L1204.5 1536.5 Z" style="stroke-width:3.3"/>
<path class="s" d="M1203.4 1556.3 L1202.3 1558.9 L1200.8 1561.5 L1198.9 1564.1 L1196.6 1566.6 L1193.9 1569.1 L1190.9 1571.5 L1187.6 1573.8 L1183.9 1576 L1179.8 1578.2 L1175.5 1580.2 L1170.9 1582.1 L1166 1584 L1160.8 1585.7 L1155.4 1587.2 L1149.8 1588.7 L1143.9 1590 L1137.9 1591.1 L1131.7 1592.2 L1125.4 1593 L1119 1593.7 L1112.4 1594.3 L1105.8 1594.7 L1099.2 1594.9 L1092.5 1595 L1085.8 1594.9 L1079.2 1594.7 L1072.6 1594.3 L1066 1593.7 L1059.6 1593 L1053.3 1592.2 L1047.1 1591.1 L1041.1 1590 L1035.2 1588.7 L1029.6 1587.2 L1024.2 1585.7 L1019 1584 L1014.1 1582.1 L1009.5 1580.2 L1005.2 1578.2 L1001.1 1576 L997.4 1573.8 L994.1 1571.5 L991.1 1569.1 L988.4 1566.6 L986.1 1564.1 L984.2 1561.5 L982.7 1558.9 L981.6 1556.3" style="stroke-width:3"/>
<ellipse class="w" style="stroke-width:3.4" cx="1092.5" cy="1536.5" rx="112" ry="44.7"/>
<ellipse class="s" style="stroke-width:2.8" cx="1093" cy="1537" rx="107" ry="40"/>
<path class="s" d="M990 1543 L990.2 1540.5 L990.9 1538 L992 1535.6 L993.5 1533.2 L995.5 1530.8 L997.8 1528.5 L1000.6 1526.2 L1003.8 1524 L1007.4 1521.9 L1011.3 1519.9 L1015.6 1517.9 L1020.2 1516.1 L1025.1 1514.4 L1030.3 1512.9 L1035.8 1511.4 L1041.5 1510.1 L1047.4 1508.9 L1053.6 1507.9 L1059.9 1507 L1066.3 1506.3 L1072.9 1505.7 L1079.6 1505.3 L1086.3 1505.1 L1093 1505 L1099.7 1505.1 L1106.4 1505.3 L1113.1 1505.7 L1119.7 1506.3 L1126.1 1507 L1132.4 1507.9 L1138.6 1508.9 L1144.5 1510.1 L1150.2 1511.4 L1155.7 1512.9 L1160.9 1514.4 L1165.8 1516.1 L1170.4 1517.9 L1174.7 1519.9 L1178.6 1521.9 L1182.2 1524 L1185.4 1526.2 L1188.2 1528.5 L1190.5 1530.8 L1192.5 1533.2 L1194 1535.6 L1195.1 1538 L1195.8 1540.5 L1196 1543" style="stroke-width:3"/>
<path class="s" d="M1146.5 1571.6 L1144.5 1572.1 L1142.4 1572.5 L1140.3 1572.9 L1138.2 1573.3 L1136.1 1573.6 L1133.9 1574 L1131.8 1574.3 L1129.6 1574.6 L1127.4 1574.9 L1125.2 1575.1 L1122.9 1575.4 L1120.7 1575.6 L1118.4 1575.9 L1116.2 1576.1 L1113.9 1576.2 L1111.6 1576.4 L1109.3 1576.5 L1107 1576.7 L1104.6 1576.8 L1102.3 1576.8 L1100 1576.9 L1097.7 1577 L1095.3 1577 L1093 1577 L1090.7 1577 L1088.3 1577 L1086 1576.9 L1083.7 1576.8 L1081.4 1576.8 L1079 1576.7 L1076.7 1576.5 L1074.4 1576.4 L1072.1 1576.2 L1069.8 1576.1 L1067.6 1575.9 L1065.3 1575.6 L1063.1 1575.4 L1060.8 1575.1 L1058.6 1574.9 L1056.4 1574.6 L1054.2 1574.3 L1052.1 1574 L1049.9 1573.6 L1047.8 1573.3 L1045.7 1572.9 L1043.6 1572.5 L1041.5 1572.1 L1039.5 1571.6" style="stroke-width:4.2"/>
<ellipse class="s" style="stroke-width:3" cx="1091.8" cy="1548" rx="41" ry="17"/>
<path class="s" d="M1056.3 1555.6 L1056.8 1555 L1057.5 1554.3 L1058.3 1553.6 L1059.2 1553 L1060.2 1552.4 L1061.2 1551.8 L1062.4 1551.2 L1063.7 1550.6 L1065 1550.1 L1066.4 1549.6 L1067.9 1549.1 L1069.5 1548.7 L1071.1 1548.3 L1072.8 1547.9 L1074.6 1547.5 L1076.4 1547.2 L1078.2 1546.9 L1080.1 1546.7 L1082 1546.5 L1084 1546.3 L1086 1546.2 L1088 1546.1 L1090 1546 L1092 1546 L1094 1546 L1096 1546.1 L1098 1546.2 L1100 1546.3 L1102 1546.5 L1103.9 1546.7 L1105.8 1546.9 L1107.6 1547.2 L1109.4 1547.5 L1111.2 1547.9 L1112.9 1548.3 L1114.5 1548.7 L1116.1 1549.1 L1117.6 1549.6 L1119 1550.1 L1120.3 1550.6 L1121.6 1551.2 L1122.8 1551.8 L1123.8 1552.4 L1124.8 1553 L1125.7 1553.6 L1126.5 1554.3 L1127.2 1555 L1127.7 1555.6" style="stroke-width:3"/>
<path class="s" d="M1128.2 1536.9 L1175.7 1524.9 A3 3 0 0 0 1174.3 1519.1 L1126.8 1531.1 A3 3 0 0 0 1128.2 1536.9 Z"/>
<path class="s" d="M1024.8 1569.9 L1052.8 1562.4 A3 3 0 0 0 1051.2 1556.6 L1023.2 1564.1 A3 3 0 0 0 1024.8 1569.9 Z"/>
<ellipse class="b" cx="1005" cy="1542.5" rx="10" ry="6"/>
<ellipse class="w" style="stroke-width:.5" cx="1002" cy="1542.5" rx="2" ry="1.5"/>
<ellipse class="w" style="stroke-width:.5" cx="1009" cy="1542.5" rx="2" ry="1.5"/>
<ellipse class="b" cx="1100" cy="1512" rx="10" ry="6"/>
<ellipse class="w" style="stroke-width:.5" cx="1097" cy="1512" rx="2" ry="1.5"/>
<ellipse class="w" style="stroke-width:.5" cx="1104" cy="1512" rx="2" ry="1.5"/>
<ellipse class="b" cx="1178.4" cy="1550.5" rx="10" ry="6"/>
<ellipse class="w" style="stroke-width:.5" cx="1175.4" cy="1550.5" rx="2" ry="1.5"/>
<ellipse class="w" style="stroke-width:.5" cx="1182.4" cy="1550.5" rx="2" ry="1.5"/>
<path class="w" d="M1018 1500 L1018 1512 L1026 1512 L1026 1501" style="stroke-width:3"/>
<ellipse class="b" cx="1020" cy="1501" rx="7" ry="3"/>
<path class="s" d="M1183 1508 C1190 1502 1200 1506 1203 1518 C1204 1524 1203 1530 1201 1534" style="stroke-width:5"/>
<path class="s" d="M1183 1508 L1198 1522" style="stroke-width:3"/>
<path class="w" d="M980.5 1570 L980.5 1592 L992 1600 L1006 1598 C1012 1592 1015 1583 1014 1575 C1010 1568 1000 1565 992 1567 Z" style="stroke-width:3.3"/>
<path class="s" d="M1003 1571 C1009 1578 1010 1590 1004 1598 M997 1569 C1003 1576 1004 1590 998 1599" style="stroke-width:3"/>
<ellipse class="s" style="stroke-width:3" cx="987.5" cy="1581" rx="5" ry="6.5"/>
<ellipse class="b" cx="987.5" cy="1581" rx="1.8" ry="2.5"/>
<path class="w" d="M1152 1590 C1152 1584 1174 1584 1175 1590 L1175 1598 C1172 1604 1156 1604 1152 1599 Z" style="stroke-width:3.3"/>
<path class="w" d="M1157 1574 L1157 1586 L1169 1586 L1169 1573" style="stroke-width:3"/>
<ellipse class="b" cx="1163" cy="1573" rx="7.5" ry="3.5"/>
<path class="s" d="M1152 1590 C1158 1595 1170 1595 1175 1590" style="stroke-width:3"/>
<path class="w" style="stroke-width:3.4" d="M1246.5 1505.5 L1286 1493.8 A5.2 5.2 0 0 0 1283 1483.8 L1243.5 1495.5 A5.2 5.2 0 0 0 1246.5 1505.5 Z"/>
<line class="s" style="stroke-width:4.6" x1="1247.5" y1="1505.5" x2="1286" y2="1494.1"/>
<ellipse class="b" cx="1244" cy="1500.8" rx="4.2" ry="6.2" transform="rotate(-17 1244 1500.8)"/>
<ellipse class="w" style="stroke:none" cx="1243" cy="1503.5" rx="1.2" ry="1.2"/>
<path class="w" style="stroke-width:3.4" d="M903.5 1614 L942 1602.5 A5.2 5.2 0 0 0 939 1592.5 L900.5 1604 A5.2 5.2 0 0 0 903.5 1614 Z"/>
<line class="s" style="stroke-width:4.6" x1="904.5" y1="1614" x2="942" y2="1602.8"/>
<ellipse class="b" cx="901" cy="1609.3" rx="4.2" ry="6.2" transform="rotate(-17 901 1609.3)"/>
<ellipse class="w" style="stroke:none" cx="900" cy="1612" rx="1.2" ry="1.2"/>
<path class="w" d="M1018.9 1626 L1018.9 1609 L1024.3 1609 L1024.3 1626" style="stroke-width:2.4"/><path class="s" d="M1018.9 1609 C1018.9 1606 1024.3 1606 1024.3 1609" style="stroke-width:2.4"/><ellipse class="w" style="stroke-width:2.8" cx="1021.6" cy="1629" rx="10" ry="5"/><ellipse class="s" style="stroke-width:2.2" cx="1021.6" cy="1628.5" rx="4.5" ry="2.5"/><path class="w" d="M1018.9 1627 L1018.9 1620 L1024.3 1620 L1024.3 1627" style="stroke-width:2.4;stroke:none"/><path class="s" d="M1018.9 1627 L1018.9 1620 M1024.3 1620 L1024.3 1627" style="stroke-width:2.4"/>
<path class="w" d="M1157.2 1698 L1157.2 1680 L1162.8 1680 L1162.8 1698" style="stroke-width:2.4"/><path class="s" d="M1157.2 1680 C1157.2 1677 1162.8 1677 1162.8 1680" style="stroke-width:2.4"/><ellipse class="w" style="stroke-width:2.8" cx="1160" cy="1701" rx="10" ry="5"/><ellipse class="s" style="stroke-width:2.2" cx="1160" cy="1700.5" rx="4.5" ry="2.5"/><path class="w" d="M1157.2 1699 L1157.2 1692 L1162.8 1692 L1162.8 1699" style="stroke-width:2.4;stroke:none"/><path class="s" d="M1157.2 1699 L1157.2 1692 M1162.8 1692 L1162.8 1699" style="stroke-width:2.4"/>
<path class="w" d="M1001.8 1759 L1001.8 1724 L1007.2 1724 L1007.2 1759" style="stroke-width:2.4"/><path class="s" d="M1001.8 1724 C1001.8 1721 1007.2 1721 1007.2 1724" style="stroke-width:2.4"/><ellipse class="w" style="stroke-width:2.8" cx="1004.5" cy="1762" rx="10" ry="5"/><ellipse class="s" style="stroke-width:2.2" cx="1004.5" cy="1761.5" rx="4.5" ry="2.5"/><path class="w" d="M1001.8 1760 L1001.8 1753 L1007.2 1753 L1007.2 1760" style="stroke-width:2.4;stroke:none"/><path class="s" d="M1001.8 1760 L1001.8 1753 M1007.2 1753 L1007.2 1760" style="stroke-width:2.4"/>
<path class="w" d="M1097.2 1749 L1097.2 1714 L1102.8 1714 L1102.8 1749" style="stroke-width:2.4"/><path class="s" d="M1097.2 1714 C1097.2 1711 1102.8 1711 1102.8 1714" style="stroke-width:2.4"/><ellipse class="w" style="stroke-width:2.8" cx="1100" cy="1752" rx="10" ry="5"/><ellipse class="s" style="stroke-width:2.2" cx="1100" cy="1751.5" rx="4.5" ry="2.5"/><path class="w" d="M1097.2 1750 L1097.2 1743 L1102.8 1743 L1102.8 1750" style="stroke-width:2.4;stroke:none"/><path class="s" d="M1097.2 1750 L1097.2 1743 M1102.8 1743 L1102.8 1750" style="stroke-width:2.4"/>
<path class="w" d="M1174.8 1767 L1174.8 1729 L1180.2 1729 L1180.2 1767" style="stroke-width:2.4"/><path class="s" d="M1174.8 1729 C1174.8 1726 1180.2 1726 1180.2 1729" style="stroke-width:2.4"/><ellipse class="w" style="stroke-width:2.8" cx="1177.5" cy="1770" rx="10" ry="5"/><ellipse class="s" style="stroke-width:2.2" cx="1177.5" cy="1769.5" rx="4.5" ry="2.5"/><path class="w" d="M1174.8 1768 L1174.8 1761 L1180.2 1761 L1180.2 1768" style="stroke-width:2.4;stroke:none"/><path class="s" d="M1174.8 1768 L1174.8 1761 M1180.2 1761 L1180.2 1768" style="stroke-width:2.4"/>
<path class="w" d="M1086.2 2134 L1086.2 2114 L1091.8 2114 L1091.8 2134" style="stroke-width:2.4"/><path class="s" d="M1086.2 2114 C1086.2 2111 1091.8 2111 1091.8 2114" style="stroke-width:2.4"/><ellipse class="w" style="stroke-width:2.8" cx="1089" cy="2137" rx="10" ry="5"/><ellipse class="s" style="stroke-width:2.2" cx="1089" cy="2136.5" rx="4.5" ry="2.5"/><path class="w" d="M1086.2 2135 L1086.2 2128 L1091.8 2128 L1091.8 2135" style="stroke-width:2.4;stroke:none"/><path class="s" d="M1086.2 2135 L1086.2 2128 M1091.8 2128 L1091.8 2135" style="stroke-width:2.4"/>
<ellipse class="s" style="stroke-width:2.6" cx="1092" cy="901.5" rx="9.5" ry="5"/>
<ellipse class="t" cx="1092" cy="901.5" rx="5" ry="2.3"/>
<ellipse class="w" style="stroke-width:3" cx="1090" cy="2094" rx="11" ry="5.5"/>
<ellipse class="b" cx="1090" cy="2094" rx="6" ry="2.5"/>
<!-- 70_pad.py -->
<ellipse class="w" style="stroke-width:2.8" cx="1091.8" cy="1884.2" rx="249" ry="101.5" transform="rotate(-0.4 1091.8 1884.2)"/>
<path class="s" d="M1337.1 1900.1 L1334.2 1905.9 L1330.5 1911.6 L1326 1917.3 L1320.7 1922.8 L1314.6 1928.2 L1307.8 1933.4 L1300.2 1938.5 L1291.9 1943.4 L1283 1948.1 L1273.4 1952.6 L1263.2 1956.8 L1252.4 1960.8 L1241.1 1964.6 L1229.2 1968 L1216.9 1971.2 L1204.2 1974.1 L1191.1 1976.7 L1177.6 1979 L1163.9 1980.9 L1149.9 1982.6 L1135.7 1983.9 L1121.4 1984.8 L1107 1985.4 L1092.5 1985.7 L1078 1985.6 L1063.6 1985.2 L1049.3 1984.5 L1035.1 1983.4 L1021.1 1981.9 L1007.3 1980.2 L993.8 1978.1 L980.7 1975.7 L967.9 1973 L955.6 1970 L943.7 1966.7 L932.3 1963.1 L921.4 1959.2 L911.2 1955.1 L901.5 1950.8 L892.5 1946.2 L884.2 1941.4 L876.5 1936.5 L869.6 1931.3 L863.5 1926 L858.1 1920.5 L853.5 1915 L849.7 1909.3 L846.7 1903.5" style="stroke-width:3.8"/>
<path class="w" d="M1078.8 1799.5 L1078.8 1764 L1084.3 1764 L1084.3 1799.5" style="stroke-width:2.4"/><path class="s" d="M1078.8 1764 C1078.8 1761 1084.3 1761 1084.3 1764" style="stroke-width:2.4"/><ellipse class="w" style="stroke-width:2.8" cx="1081.6" cy="1802.5" rx="10" ry="5"/><ellipse class="s" style="stroke-width:2.2" cx="1081.6" cy="1802" rx="4.5" ry="2.5"/><path class="w" d="M1078.8 1800.5 L1078.8 1793.5 L1084.3 1793.5 L1084.3 1800.5" style="stroke-width:2.4;stroke:none"/><path class="s" d="M1078.8 1800.5 L1078.8 1793.5 M1084.3 1793.5 L1084.3 1800.5" style="stroke-width:2.4"/>
<path class="w" d="M986 1871 L982.75 1883 L989.75 1886 Z" style="stroke-width:3"/>
<path class="w" d="M995.9 1888.5 L995 1902.5 L1019.5 1915.6 L1023.9 1903.4 L1033.5 1906 L1027.4 1910.4" style="stroke-width:3.3"/>
<path class="w" d="M1058 1909.5 L1058 1924.4 L1099 1926 L1100 1911" style="stroke-width:3.3"/>
<path class="s" d="M1100 1911 L1136.75 1908.6" style="stroke-width:4.2"/>
<path class="w" d="M1131.5 1910.4 L1140.25 1921.75 L1171.75 1912 L1172.6 1899" style="stroke-width:3.3"/>
<path class="s" d="M1180.5 1888.5 L1187.5 1883.5 L1194.5 1895.5 L1182 1893.5 M1193.6 1867.5 L1198.9 1883 L1194.5 1895.5" style="stroke-width:3"/>
<ellipse class="w" style="stroke-width:3" cx="1091.2" cy="1866" rx="102.4" ry="42.4"/>
<ellipse class="s" style="stroke-width:2.8" cx="1090.5" cy="1865" rx="79.6" ry="32.3"/>
<path class="w" d="M1066.8 1838 L1066.8 1847.4 C1068 1860 1113 1860 1114 1847.4 L1114 1838 Z" style="stroke-width:3.3"/>
<ellipse class="w" style="stroke-width:3" cx="1090.4" cy="1838" rx="23.6" ry="9.5"/>
<ellipse class="s" style="stroke-width:3.4" cx="1090.4" cy="1837" rx="17" ry="6.5"/>
<ellipse class="s" style="stroke-width:2.2" cx="1090.4" cy="1837" rx="9" ry="3.4"/>
<path class="s" d="M1080 1828 C1085 1825 1096 1825 1101 1828" style="stroke-width:5"/>
<!-- 80_dashed.py -->
<path class="s" d="M1006.6 846 L1006.6 862.6 M1006.6 887 L1006.6 912.3 M1006.6 937.6 L1006.6 960 M1006.6 987.2 L1006.6 1009.8 M1006.6 1035 L1006.6 1059.5 M1006.6 1084.8 L1006.6 1109 M1006.6 1134.5 L1006.6 1158 M1006.6 1183.3 L1006.6 1206.8 " style="stroke-width:2.6;stroke-linecap:butt"/>
<path class="s" d="M1180 847 L1180 862.6 M1180 888.8 L1180 912.3 M1180 937.6 L1180 962 M1180 987.2 L1180 1010.7 M1180 1037 L1180 1060.4 M1180 1087.5 L1180 1110 M1180 1135.4 L1180 1159.8 M1180 1178 L1180 1200 " style="stroke-width:2.6;stroke-linecap:butt"/>
<path class="s" d="M1005.2 1428 L1005.2 1446.6 M1005.2 1470.6 L1005.2 1496.4 M1005.2 1521 L1005.2 1540 M1005.2 1596.8 L1005.2 1623.4 M1005.2 1647.4 L1005.2 1672.3 M1005.2 1698 L1005.2 1722 " style="stroke-width:2.6;stroke-linecap:butt"/>
<path class="s" d="M1022 1430 L1022 1452.6 M1022 1478.4 L1022 1502.4 M1022 1598.5 L1022 1607 " style="stroke-width:2.6;stroke-linecap:butt"/>
<path class="s" d="M1161.9 1430 L1161.9 1464.6 M1161.9 1488.7 L1161.9 1502.4 M1161.9 1540 L1161.9 1572.8 M1161.9 1598.5 L1161.9 1628.5 M1161.9 1653.4 L1161.9 1677.5 " style="stroke-width:2.6;stroke-linecap:butt"/>
<path class="s" d="M1178.2 1430 L1178.2 1451.8 M1178.2 1475.8 L1178.2 1500.7 M1178.2 1517.8 L1178.2 1550.4 M1178.2 1595 L1178.2 1621.7 M1178.2 1646.6 L1178.2 1672.3 M1178.2 1696.4 L1178.2 1727 " style="stroke-width:2.6;stroke-linecap:butt"/>
<path class="s" d="M399.3 1146.5 L422.9 1138.1 M435.4 1133.7 L458 1125.6 M471.5 1120.8 L565.1 1087.5 M587.7 1079.5 L611.7 1071 M623 1066.9 L645.8 1058.8 M658 1054.5 L685 1044.9 M695.1 1041.3 L724 1031 " style="stroke-width:2.6;stroke-linecap:butt"/>
<!-- 90_callouts.py -->
<path class="l" d="M828.6 152 L713 1006"/><path class="b" style="stroke-width:.6" d="M713 1006 L710.5 988.5 L720 989.8 Z"/>
<path class="l" d="M909.4 152.9 L728 1060"/>
<path class="l" d="M1025.1 154.9 L750.5 1034"/><path class="b" style="stroke-width:.6" d="M750.5 1034 L751 1016.3 L760.2 1019.2 Z"/>
<path class="l" d="M1157.5 159 L1097 558"/><path class="b" style="stroke-width:.6" d="M1097 558 L1094.8 540.5 L1104.3 541.9 Z"/>
<path class="l" d="M1271.4 158.9 L1173.5 643"/><path class="b" style="stroke-width:.6" d="M1173.5 643 L1172.2 625.4 L1181.6 627.3 Z"/>
<path class="l" d="M160.4 410.7 L424.5 913"/><path class="b" style="stroke-width:.6" d="M424.5 913 L412.3 900.2 L420.8 895.7 Z"/>
<path class="l" d="M212.6 408 L214 442 L542 1112"/><path class="b" style="stroke-width:.6" d="M542 1112 L530.2 1098.8 L538.8 1094.6 Z"/>
<path class="l" d="M263.4 399.8 L247.5 439 L559.5 1087"/><path class="b" style="stroke-width:.6" d="M559.5 1087 L547.8 1073.8 L556.4 1069.6 Z"/>
<path class="l" d="M345.1 406.9 L411 717 L592 1000"/><path class="b" style="stroke-width:.6" d="M592 1000 L578.8 988.3 L586.9 983.1 Z"/>
<path class="l" d="M78.2 585.1 L331 827"/><path class="b" style="stroke-width:.6" d="M331 827 L315.4 818.7 L322 811.8 Z"/>
<path class="l" d="M78 660.2 L339 951"/><path class="b" style="stroke-width:.6" d="M339 951 L324.1 941.6 L331.2 935.1 Z"/>
<path class="l" d="M80 1032 L275 1032"/><path class="b" style="stroke-width:.6" d="M275 1032 L258 1036.8 L258 1027.2 Z"/>
<path class="l" d="M78 1174.9 L362 1165.5"/><path class="b" style="stroke-width:.6" d="M362 1165.5 L345.2 1170.9 L344.9 1161.3 Z"/>
<path class="l" d="M80.9 1292.1 L363 1204"/><path class="b" style="stroke-width:.6" d="M363 1204 L348.2 1213.6 L345.3 1204.5 Z"/>
<path class="l" d="M1514 901 L1109 901"/><path class="b" style="stroke-width:.6" d="M1109 901 L1126 896.2 L1126 905.8 Z"/>
<path class="l" d="M1509.5 1176.6 L1364 1272"/><path class="b" style="stroke-width:.6" d="M1364 1272 L1375.6 1258.7 L1380.8 1266.7 Z"/>
<path class="l" d="M1527.5 1339.6 L1292 1486"/><path class="b" style="stroke-width:.6" d="M1292 1486 L1303.9 1472.9 L1309 1481.1 Z"/>
<path class="l" d="M1524 1548.5 L1207 1548.5"/><path class="b" style="stroke-width:.6" d="M1207 1548.5 L1224 1543.7 L1224 1553.3 Z"/>
<path class="l" d="M1526 1683.5 L1168 1685"/><path class="b" style="stroke-width:.6" d="M1168 1685 L1185 1680.1 L1185 1689.7 Z"/>
<path class="l" d="M1526 1751 L1185 1748.5"/><path class="b" style="stroke-width:.6" d="M1185 1748.5 L1202 1743.8 L1202 1753.4 Z"/>
<path class="l" d="M1519 1853 L1335 1856"/><path class="b" style="stroke-width:.6" d="M1335 1856 L1351.9 1850.9 L1352.1 1860.5 Z"/>
<path class="l" d="M1504.5 2092.5 L1104.5 2093.5"/><path class="b" style="stroke-width:.6" d="M1104.5 2093.5 L1121.5 2088.7 L1121.5 2098.3 Z"/>
<path class="l" d="M1499 2159.2 L1098 2125"/><path class="b" style="stroke-width:.6" d="M1098 2125 L1115.3 2121.7 L1114.5 2131.2 Z"/>
<path class="l" d="M310.6 2093.1 L463.3 1320"/><path class="b" style="stroke-width:.6" d="M463.3 1320 L464.7 1337.6 L455.3 1335.7 Z"/>
<path class="l" d="M397 2110.2 L411 2072 L480 1388"/><path class="b" style="stroke-width:.6" d="M480 1388 L483.1 1405.4 L473.5 1404.4 Z"/>
<path class="l" d="M465.7 2110.5 L492 2072 L615 1170"/><path class="b" style="stroke-width:.6" d="M615 1170 L617.5 1187.5 L607.9 1186.2 Z"/>
<path class="l" d="M513.6 2110.2 L525.6 2080 L591 1410"/><path class="b" style="stroke-width:.6" d="M591 1410 L594.1 1427.4 L584.6 1426.5 Z"/>
<path class="l" d="M568.2 2109 L620 1345"/><path class="b" style="stroke-width:.6" d="M620 1345 L623.6 1362.3 L614.1 1361.6 Z"/>
<path class="l" d="M627.1 2109 L642.3 1339.5"/><path class="b" style="stroke-width:.6" d="M642.3 1339.5 L646.8 1356.6 L637.2 1356.4 Z"/>
<path class="l" d="M698.3 2109 L659.6 1335.5"/><path class="b" style="stroke-width:.6" d="M659.6 1335.5 L665.2 1352.2 L655.7 1352.7 Z"/>
<path class="l" d="M803.6 2109 L709 1320"/><path class="b" style="stroke-width:.6" d="M709 1320 L715.8 1336.3 L706.3 1337.5 Z"/>
<circle class="c" cx="831.9" cy="121.8" r="27.6"/><text x="832.4" y="132.3">2</text>
<circle class="c" cx="915.4" cy="123" r="27.6"/><text x="918.1" y="133.6">3</text>
<circle class="c" cx="1034.7" cy="126" r="27.6"/><text x="1038.5" y="136.8">4</text>
<circle class="c" cx="1161" cy="128.8" r="27.6"/><text x="1163.8" y="139.6">5</text>
<circle class="c" cx="1277.4" cy="129.1" r="27.6"/><text x="1279.6" y="140.7">6</text>
<circle class="c" cx="152.7" cy="381" r="27.6"/><text x="152.8" y="394.2">25</text>
<circle class="c" cx="216.5" cy="377.7" r="27.6"/><text x="220.5" y="390.1">26</text>
<circle class="c" cx="281.8" cy="372.4" r="27.6"/><text x="285.8" y="387.2">27</text>
<circle class="c" cx="344.4" cy="376.7" r="27.6"/><text x="344.6" y="388.2">16</text>
<circle class="c" cx="54.3" cy="563.3" r="27.6"/><text x="57.6" y="572.1">24</text>
<circle class="c" cx="54" cy="638.1" r="27.6"/><text x="57.8" y="649.4">23</text>
<circle class="c" cx="49" cy="1032" r="27.6"/><text x="51.9" y="1044.7">22</text>
<circle class="c" cx="47.6" cy="1179.8" r="27.6"/><text x="49.5" y="1190.7">21</text>
<circle class="c" cx="51" cy="1302.3" r="27.6"/><text x="54.4" y="1314.1">20</text>
<circle class="c" cx="1544.5" cy="901" r="27.6"/><text x="1549.5" y="914.5">7</text>
<circle class="c" cx="1534" cy="1159.1" r="27.6"/><text x="1536.3" y="1172.6">8</text>
<circle class="c" cx="1550.5" cy="1320.3" r="27.6"/><text x="1552.1" y="1330.3">9</text>
<circle class="c" cx="1554.5" cy="1548" r="27.6"/><text x="1555.2" y="1561.4">10</text>
<circle class="c" cx="1557.2" cy="1684.2" r="27.6"/><text x="1558.4" y="1694.4">11</text>
<circle class="c" cx="1555.8" cy="1752.5" r="27.6"/><text x="1558.8" y="1766.1">2</text>
<circle class="c" cx="1549.8" cy="1852.2" r="27.6"/><text x="1551.1" y="1865.2">12</text>
<circle class="c" cx="1536.7" cy="2089.7" r="27.6"/><text x="1539.8" y="2104.7">13</text>
<circle class="c" cx="1530.4" cy="2159.7" r="27.6"/><text x="1528.7" y="2173.7">11</text>
<circle class="c" cx="307" cy="2123.7" r="27.6"/><text x="308.1" y="2136.9">19</text>
<circle class="c" cx="392.6" cy="2140.4" r="27.6"/><text x="393.5" y="2152.6">11</text>
<circle class="c" cx="451.2" cy="2140.4" r="27.6"/><text x="451.2" y="2152.6">18</text>
<circle class="c" cx="509.5" cy="2140.4" r="27.6"/><text x="510.8" y="2152.6">17</text>
<circle class="c" cx="567.1" cy="2140.4" r="27.6"/><text x="567.6" y="2152.6">15</text>
<circle class="c" cx="626.5" cy="2139.5" r="27.6"/><text x="628.7" y="2151.1">16</text>
<circle class="c" cx="702.6" cy="2140.4" r="27.6"/><text x="702.8" y="2152.6">15</text>
<circle class="c" cx="812.2" cy="2140.4" r="27.6"/><text x="812.2" y="2152.6">14</text>
</svg>
</body></html>
